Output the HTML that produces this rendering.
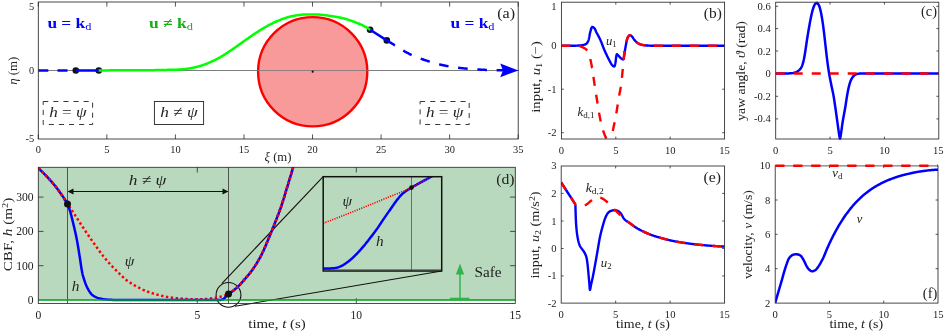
<!DOCTYPE html>
<html><head><meta charset="utf-8"><title>figure</title>
<style>html,body{margin:0;padding:0;background:#fff;}svg{display:block;font-family:'Liberation Serif', serif;}</style>
</head><body>
<svg width="947" height="334" viewBox="0 0 947 334">
<rect width="947" height="334" fill="#fff"/>
<rect x="38.3" y="2" width="479.9" height="137" fill="#ffffff" stroke="none"/>
<clipPath id="ca"><rect x="38.3" y="2" width="479.9" height="137"/></clipPath>
<line x1="38.3" y1="139" x2="38.3" y2="134.4" stroke="#2a2a2a" stroke-width="0.8" />
<line x1="38.3" y1="2" x2="38.3" y2="6.6" stroke="#2a2a2a" stroke-width="0.8" />
<line x1="106.86" y1="139" x2="106.86" y2="134.4" stroke="#2a2a2a" stroke-width="0.8" />
<line x1="106.86" y1="2" x2="106.86" y2="6.6" stroke="#2a2a2a" stroke-width="0.8" />
<line x1="175.41" y1="139" x2="175.41" y2="134.4" stroke="#2a2a2a" stroke-width="0.8" />
<line x1="175.41" y1="2" x2="175.41" y2="6.6" stroke="#2a2a2a" stroke-width="0.8" />
<line x1="243.97" y1="139" x2="243.97" y2="134.4" stroke="#2a2a2a" stroke-width="0.8" />
<line x1="243.97" y1="2" x2="243.97" y2="6.6" stroke="#2a2a2a" stroke-width="0.8" />
<line x1="312.53" y1="139" x2="312.53" y2="134.4" stroke="#2a2a2a" stroke-width="0.8" />
<line x1="312.53" y1="2" x2="312.53" y2="6.6" stroke="#2a2a2a" stroke-width="0.8" />
<line x1="381.09" y1="139" x2="381.09" y2="134.4" stroke="#2a2a2a" stroke-width="0.8" />
<line x1="381.09" y1="2" x2="381.09" y2="6.6" stroke="#2a2a2a" stroke-width="0.8" />
<line x1="449.64" y1="139" x2="449.64" y2="134.4" stroke="#2a2a2a" stroke-width="0.8" />
<line x1="449.64" y1="2" x2="449.64" y2="6.6" stroke="#2a2a2a" stroke-width="0.8" />
<line x1="518.2" y1="139" x2="518.2" y2="134.4" stroke="#2a2a2a" stroke-width="0.8" />
<line x1="518.2" y1="2" x2="518.2" y2="6.6" stroke="#2a2a2a" stroke-width="0.8" />
<line x1="38.3" y1="70.5" x2="42.9" y2="70.5" stroke="#2a2a2a" stroke-width="0.8" />
<line x1="518.2" y1="70.5" x2="513.6" y2="70.5" stroke="#2a2a2a" stroke-width="0.8" />
<line x1="38.3" y1="70.5" x2="518.2" y2="70.5" stroke="#777" stroke-width="0.8" />
<circle cx="312.7" cy="71.75" r="54.6" fill="#f89a9a" stroke="#ff0000" stroke-width="2.4"/>
<line x1="38.3" y1="70.5" x2="518.2" y2="70.5" stroke="#777" stroke-width="0.8" />
<circle cx="312.7" cy="71.7" r="1.1" fill="#111"/>
<circle cx="75.8" cy="70.5" r="3.3" fill="#111"/>
<circle cx="98.8" cy="70.5" r="3.3" fill="#111"/>
<circle cx="370.1" cy="29.7" r="3.3" fill="#111"/>
<circle cx="386.8" cy="40.4" r="3.3" fill="#111"/>
<path d="M38.3 70.5 L75.8 70.5" fill="none" stroke="#0000ff" stroke-width="2.5" stroke-dasharray="10 9.2" />
<path d="M98.8 70.4 L99.4 70.4 L100 70.4 L100.61 70.4 L101.21 70.39 L101.81 70.39 L102.41 70.39 L103.01 70.39 L103.62 70.39 L104.22 70.39 L104.82 70.39 L105.42 70.38 L106.02 70.38 L106.63 70.38 L107.23 70.38 L107.83 70.38 L108.43 70.38 L109.03 70.37 L109.64 70.37 L110.24 70.37 L110.84 70.37 L111.44 70.37 L112.04 70.36 L112.65 70.36 L113.25 70.36 L113.85 70.36 L114.45 70.36 L115.05 70.36 L115.66 70.35 L116.26 70.35 L116.86 70.35 L117.46 70.35 L118.06 70.34 L118.67 70.34 L119.27 70.34 L119.87 70.34 L120.47 70.34 L121.07 70.33 L121.68 70.33 L122.28 70.33 L122.88 70.33 L123.48 70.33 L124.08 70.32 L124.69 70.32 L125.29 70.32 L125.89 70.32 L126.49 70.31 L127.09 70.31 L127.7 70.31 L128.3 70.31 L128.9 70.3 L129.5 70.3 L130.1 70.3 L130.7 70.3 L131.31 70.29 L131.91 70.29 L132.51 70.29 L133.11 70.29 L133.71 70.29 L134.32 70.28 L134.92 70.28 L135.52 70.28 L136.12 70.28 L136.72 70.27 L137.33 70.27 L137.93 70.27 L138.53 70.27 L139.13 70.26 L139.73 70.26 L140.34 70.26 L140.94 70.26 L141.54 70.25 L142.14 70.25 L142.74 70.25 L143.35 70.24 L143.95 70.24 L144.55 70.24 L145.15 70.23 L145.75 70.23 L146.36 70.23 L146.96 70.22 L147.56 70.22 L148.16 70.21 L148.76 70.21 L149.37 70.21 L149.97 70.2 L150.57 70.19 L151.17 70.19 L151.77 70.18 L152.38 70.17 L152.98 70.16 L153.58 70.15 L154.18 70.14 L154.78 70.13 L155.39 70.11 L155.99 70.1 L156.59 70.09 L157.19 70.07 L157.79 70.06 L158.39 70.04 L159 70.03 L159.6 70.01 L160.2 70 L160.8 69.98 L161.4 69.97 L162.01 69.96 L162.61 69.94 L163.21 69.93 L163.81 69.92 L164.41 69.91 L165.01 69.9 L165.62 69.89 L166.22 69.88 L166.82 69.88 L167.42 69.87 L168.02 69.86 L168.63 69.86 L169.23 69.85 L169.83 69.84 L170.43 69.83 L171.03 69.83 L171.64 69.82 L172.24 69.81 L172.84 69.79 L173.44 69.78 L174.04 69.76 L174.65 69.74 L175.25 69.72 L175.85 69.7 L176.45 69.68 L177.05 69.65 L177.65 69.62 L178.26 69.59 L178.86 69.56 L179.46 69.53 L180.06 69.5 L180.66 69.46 L181.26 69.41 L181.86 69.36 L182.46 69.31 L183.06 69.25 L183.66 69.18 L184.26 69.12 L184.85 69.04 L185.45 68.97 L186.05 68.89 L186.65 68.81 L187.24 68.74 L187.84 68.65 L188.43 68.57 L189.03 68.47 L189.62 68.38 L190.21 68.27 L190.81 68.17 L191.4 68.05 L191.99 67.94 L192.58 67.82 L193.17 67.7 L193.76 67.57 L194.35 67.44 L194.94 67.31 L195.52 67.18 L196.11 67.04 L196.69 66.9 L197.28 66.75 L197.86 66.59 L198.44 66.43 L199.02 66.27 L199.6 66.1 L200.18 65.93 L200.75 65.75 L201.33 65.57 L201.9 65.39 L202.47 65.21 L203.04 65.02 L203.61 64.83 L204.18 64.63 L204.75 64.42 L205.31 64.21 L205.87 63.99 L206.44 63.77 L207 63.55 L207.56 63.33 L208.11 63.1 L208.67 62.86 L209.22 62.63 L209.78 62.4 L210.33 62.16 L210.88 61.92 L211.43 61.67 L211.98 61.42 L212.53 61.17 L213.07 60.92 L213.62 60.66 L214.16 60.4 L214.7 60.13 L215.24 59.86 L215.78 59.59 L216.31 59.32 L216.85 59.04 L217.38 58.76 L217.91 58.48 L218.44 58.19 L218.97 57.9 L219.49 57.61 L220.01 57.31 L220.54 57.01 L221.06 56.7 L221.57 56.4 L222.09 56.09 L222.61 55.78 L223.12 55.46 L223.64 55.15 L224.15 54.83 L224.66 54.51 L225.17 54.19 L225.68 53.87 L226.18 53.55 L226.69 53.22 L227.19 52.89 L227.7 52.56 L228.2 52.23 L228.7 51.89 L229.2 51.56 L229.7 51.22 L230.19 50.88 L230.69 50.54 L231.19 50.2 L231.69 49.86 L232.18 49.52 L232.68 49.18 L233.17 48.84 L233.67 48.49 L234.16 48.15 L234.65 47.8 L235.14 47.45 L235.64 47.11 L236.13 46.76 L236.62 46.41 L237.11 46.06 L237.6 45.71 L238.09 45.36 L238.58 45.01 L239.07 44.66 L239.56 44.31 L240.05 43.96 L240.54 43.62 L241.03 43.27 L241.52 42.92 L242.02 42.57 L242.51 42.22 L243 41.88 L243.49 41.53 L243.98 41.18 L244.47 40.83 L244.96 40.49 L245.45 40.14 L245.95 39.79 L246.44 39.44 L246.93 39.1 L247.42 38.75 L247.92 38.41 L248.41 38.06 L248.9 37.71 L249.39 37.37 L249.89 37.02 L250.38 36.67 L250.87 36.33 L251.36 35.98 L251.86 35.64 L252.35 35.29 L252.85 34.95 L253.34 34.61 L253.84 34.27 L254.34 33.94 L254.84 33.6 L255.35 33.27 L255.85 32.94 L256.35 32.62 L256.86 32.29 L257.37 31.97 L257.88 31.64 L258.39 31.32 L258.9 31 L259.41 30.68 L259.92 30.37 L260.43 30.05 L260.95 29.74 L261.46 29.43 L261.98 29.11 L262.49 28.81 L263.01 28.5 L263.52 28.19 L264.04 27.88 L264.56 27.57 L265.08 27.26 L265.6 26.95 L266.12 26.65 L266.64 26.35 L267.16 26.05 L267.68 25.75 L268.21 25.46 L268.74 25.17 L269.27 24.88 L269.8 24.6 L270.33 24.33 L270.87 24.06 L271.41 23.79 L271.95 23.52 L272.49 23.26 L273.03 23 L273.58 22.74 L274.13 22.49 L274.67 22.24 L275.22 21.99 L275.77 21.75 L276.32 21.5 L276.88 21.27 L277.43 21.03 L277.98 20.8 L278.54 20.56 L279.09 20.33 L279.65 20.1 L280.21 19.87 L280.77 19.64 L281.33 19.42 L281.89 19.2 L282.45 18.98 L283.02 18.78 L283.59 18.57 L284.15 18.38 L284.72 18.19 L285.3 18.01 L285.87 17.83 L286.44 17.65 L287.02 17.48 L287.6 17.31 L288.18 17.15 L288.76 16.99 L289.35 16.83 L289.93 16.68 L290.52 16.54 L291.1 16.4 L291.69 16.27 L292.28 16.15 L292.87 16.03 L293.46 15.91 L294.05 15.8 L294.64 15.69 L295.23 15.58 L295.83 15.47 L296.42 15.37 L297.02 15.28 L297.61 15.19 L298.21 15.11 L298.81 15.03 L299.41 14.96 L300 14.9 L300.6 14.84 L301.2 14.79 L301.8 14.73 L302.4 14.67 L303 14.62 L303.6 14.57 L304.2 14.53 L304.8 14.49 L305.41 14.46 L306.01 14.43 L306.61 14.41 L307.21 14.4 L307.81 14.4 L308.41 14.4 L309.01 14.4 L309.62 14.4 L310.22 14.4 L310.82 14.4 L311.42 14.4 L312.03 14.4 L312.63 14.4 L313.23 14.4 L313.83 14.4 L314.43 14.4 L315.04 14.4 L315.64 14.41 L316.24 14.42 L316.84 14.45 L317.44 14.48 L318.04 14.51 L318.64 14.56 L319.24 14.61 L319.84 14.66 L320.45 14.71 L321.05 14.77 L321.64 14.82 L322.24 14.88 L322.84 14.93 L323.44 14.99 L324.04 15.06 L324.64 15.13 L325.23 15.2 L325.83 15.28 L326.43 15.37 L327.02 15.45 L327.62 15.54 L328.22 15.63 L328.81 15.72 L329.41 15.81 L330 15.9 L330.6 15.99 L331.19 16.08 L331.79 16.17 L332.39 16.26 L332.98 16.35 L333.58 16.44 L334.17 16.54 L334.77 16.63 L335.37 16.73 L335.96 16.83 L336.56 16.93 L337.15 17.04 L337.74 17.14 L338.34 17.25 L338.93 17.36 L339.52 17.48 L340.11 17.59 L340.69 17.72 L341.28 17.84 L341.86 17.97 L342.45 18.1 L343.03 18.24 L343.61 18.39 L344.19 18.54 L344.77 18.7 L345.35 18.87 L345.93 19.04 L346.51 19.21 L347.08 19.39 L347.66 19.57 L348.23 19.76 L348.81 19.95 L349.38 20.14 L349.95 20.34 L350.52 20.54 L351.09 20.74 L351.66 20.94 L352.23 21.15 L352.79 21.36 L353.36 21.56 L353.92 21.77 L354.48 21.98 L355.04 22.19 L355.61 22.41 L356.17 22.62 L356.73 22.84 L357.29 23.07 L357.85 23.29 L358.41 23.52 L358.97 23.76 L359.52 23.99 L360.08 24.23 L360.63 24.48 L361.18 24.73 L361.73 24.98 L362.28 25.23 L362.82 25.49 L363.37 25.75 L363.91 26.02 L364.44 26.29 L364.98 26.56 L365.51 26.84 L366.03 27.12 L366.56 27.41 L367.07 27.71 L367.59 28.03 L368.1 28.35 L368.6 28.68 L369.1 29.02 L369.6 29.36 L370.1 29.7" fill="none" stroke="#00ff00" stroke-width="2.5" stroke-linecap="round"/>
<path d="M75.8 70.5 L98.8 70.5" fill="none" stroke="#0000ff" stroke-width="2.5" />
<path d="M370.1 29.7 L386.8 40.4" fill="none" stroke="#0000ff" stroke-width="2.5" />
<path d="M386.8 40.4 L387.32 40.71 L387.84 41.02 L388.36 41.33 L388.88 41.65 L389.4 41.96 L389.91 42.27 L390.43 42.59 L390.95 42.9 L391.47 43.21 L391.98 43.53 L392.5 43.85 L393.02 44.16 L393.53 44.48 L394.05 44.8 L394.56 45.12 L395.08 45.43 L395.59 45.76 L396.1 46.08 L396.61 46.41 L397.12 46.74 L397.63 47.07 L398.14 47.4 L398.64 47.73 L399.15 48.06 L399.66 48.39 L400.17 48.72 L400.68 49.04 L401.2 49.36 L401.71 49.68 L402.23 49.99 L402.75 50.3 L403.27 50.6 L403.8 50.9 L404.33 51.2 L404.85 51.49 L405.38 51.79 L405.92 52.08 L406.45 52.37 L406.99 52.65 L407.52 52.94 L408.06 53.22 L408.6 53.49 L409.14 53.77 L409.68 54.04 L410.23 54.3 L410.77 54.56 L411.32 54.82 L411.87 55.07 L412.42 55.32 L412.97 55.56 L413.53 55.8 L414.08 56.04 L414.64 56.28 L415.2 56.51 L415.76 56.74 L416.33 56.97 L416.89 57.19 L417.45 57.41 L418.02 57.63 L418.59 57.85 L419.15 58.06 L419.72 58.27 L420.29 58.48 L420.85 58.69 L421.42 58.9 L421.99 59.1 L422.56 59.3 L423.14 59.5 L423.71 59.7 L424.28 59.89 L424.86 60.09 L425.43 60.28 L426.01 60.47 L426.58 60.65 L427.16 60.84 L427.74 61.02 L428.32 61.21 L428.89 61.39 L429.47 61.57 L430.05 61.75 L430.63 61.92 L431.21 62.1 L431.79 62.28 L432.37 62.46 L432.95 62.63 L433.53 62.8 L434.11 62.98 L434.69 63.15 L435.27 63.31 L435.86 63.48 L436.44 63.64 L437.02 63.8 L437.61 63.95 L438.2 64.1 L438.78 64.25 L439.37 64.39 L439.96 64.53 L440.55 64.67 L441.14 64.8 L441.73 64.93 L442.32 65.06 L442.91 65.19 L443.51 65.32 L444.1 65.44 L444.69 65.56 L445.29 65.68 L445.88 65.8 L446.48 65.91 L447.07 66.02 L447.67 66.13 L448.26 66.24 L448.86 66.35 L449.46 66.45 L450.05 66.55 L450.65 66.65 L451.25 66.75 L451.84 66.85 L452.44 66.95 L453.04 67.04 L453.64 67.13 L454.24 67.23 L454.84 67.31 L455.44 67.4 L456.04 67.48 L456.64 67.56 L457.24 67.64 L457.84 67.72 L458.44 67.79 L459.04 67.86 L459.64 67.93 L460.24 68 L460.84 68.07 L461.45 68.13 L462.05 68.2 L462.65 68.26 L463.25 68.32 L463.86 68.38 L464.46 68.44 L465.06 68.5 L465.67 68.55 L466.27 68.61 L466.87 68.66 L467.47 68.72 L468.08 68.77 L468.68 68.82 L469.28 68.87 L469.89 68.92 L470.49 68.97 L471.1 69.01 L471.7 69.06 L472.3 69.11 L472.91 69.15 L473.51 69.19 L474.12 69.24 L474.72 69.28 L475.32 69.32 L475.93 69.36 L476.53 69.4 L477.14 69.43 L477.74 69.47 L478.35 69.51 L478.95 69.54 L479.55 69.58 L480.16 69.61 L480.76 69.64 L481.37 69.68 L481.97 69.71 L482.58 69.74 L483.18 69.77 L483.79 69.8 L484.39 69.82 L485 69.85 L485.6 69.88 L486.21 69.9 L486.81 69.92 L487.42 69.95 L488.02 69.97 L488.63 69.99 L489.23 70.01 L489.84 70.03 L490.44 70.05 L491.05 70.07 L491.65 70.09 L492.26 70.11 L492.86 70.12 L493.47 70.14 L494.08 70.15 L494.68 70.17 L495.29 70.18 L495.89 70.2 L496.5 70.21 L497.1 70.22 L497.71 70.24 L498.31 70.25 L498.92 70.26 L499.52 70.27 L500.13 70.29 L500.73 70.3 L501.34 70.31 L501.95 70.32 L502.55 70.33 L503.16 70.34 L503.76 70.35 L504.37 70.36 L504.97 70.37 L505.58 70.37 L506.18 70.38 L506.79 70.39 L507.39 70.39 L508 70.4" fill="none" stroke="#0000ff" stroke-width="2.5" stroke-dasharray="9.6 9.7" />
<path d="M518.4 70.4 L500.2 63.4 L503.0 70.4 L500.2 77.2 Z" fill="#0000ff"/>
<rect x="38.3" y="2" width="479.9" height="137" fill="none" stroke="#2a2a2a" stroke-width="0.85"/>
<rect x="43.2" y="101.5" width="49.4" height="23" fill="#fff" stroke="#222" stroke-width="0.9" stroke-dasharray="5.1 5.0"/>
<rect x="154.4" y="101.5" width="49.2" height="23" fill="#fff" stroke="#222" stroke-width="0.9"/>
<rect x="420.1" y="101.5" width="49.1" height="23" fill="#fff" stroke="#222" stroke-width="0.9" stroke-dasharray="5.1 5.0"/>
<rect x="38.3" y="167.3" width="477" height="136.1" fill="#ffffff" stroke="none"/>
<rect x="38.3" y="167.3" width="477" height="132.7" fill="#b9d9be"/>
<clipPath id="cd"><rect x="38.3" y="167.3" width="477" height="136.1"/></clipPath>
<line x1="197.3" y1="303.4" x2="197.3" y2="298.2" stroke="#2a2a2a" stroke-width="0.8" />
<line x1="197.3" y1="167.3" x2="197.3" y2="172.5" stroke="#2a2a2a" stroke-width="0.8" />
<line x1="356.3" y1="303.4" x2="356.3" y2="298.2" stroke="#2a2a2a" stroke-width="0.8" />
<line x1="356.3" y1="167.3" x2="356.3" y2="172.5" stroke="#2a2a2a" stroke-width="0.8" />
<line x1="38.3" y1="265.7" x2="43.5" y2="265.7" stroke="#2a2a2a" stroke-width="0.8" />
<line x1="515.3" y1="265.7" x2="510.1" y2="265.7" stroke="#2a2a2a" stroke-width="0.8" />
<line x1="38.3" y1="231.4" x2="43.5" y2="231.4" stroke="#2a2a2a" stroke-width="0.8" />
<line x1="515.3" y1="231.4" x2="510.1" y2="231.4" stroke="#2a2a2a" stroke-width="0.8" />
<line x1="38.3" y1="197.1" x2="43.5" y2="197.1" stroke="#2a2a2a" stroke-width="0.8" />
<line x1="515.3" y1="197.1" x2="510.1" y2="197.1" stroke="#2a2a2a" stroke-width="0.8" />
<line x1="67.5" y1="167.3" x2="67.5" y2="303.4" stroke="#333" stroke-width="0.8" />
<line x1="228.5" y1="167.3" x2="228.5" y2="303.4" stroke="#333" stroke-width="0.8" />
<line x1="70.5" y1="191.5" x2="225.5" y2="191.5" stroke="#111" stroke-width="1.1" />
<path d="M67.5 191.5 l6 -2.9 v5.8 Z" fill="#111"/>
<path d="M228.5 191.5 l-6 -2.9 v5.8 Z" fill="#111"/>
<line x1="221.8" y1="283.6" x2="323.2" y2="176.7" stroke="#111" stroke-width="1.1" />
<line x1="235" y1="306.3" x2="441.7" y2="271" stroke="#111" stroke-width="1.1" />
<circle cx="228.5" cy="294.9" r="12.4" fill="none" stroke="#111" stroke-width="1.1"/>
<g clip-path="url(#cd)">
<path d="M38.3 168.2 L38.75 168.6 L39.19 169.01 L39.64 169.41 L40.08 169.82 L40.52 170.23 L40.96 170.64 L41.4 171.06 L41.83 171.47 L42.26 171.89 L42.69 172.31 L43.12 172.73 L43.55 173.15 L43.97 173.57 L44.4 174 L44.82 174.43 L45.24 174.86 L45.66 175.29 L46.07 175.73 L46.49 176.16 L46.9 176.6 L47.31 177.04 L47.72 177.48 L48.13 177.92 L48.53 178.37 L48.94 178.81 L49.34 179.26 L49.74 179.71 L50.14 180.16 L50.54 180.61 L50.93 181.06 L51.33 181.51 L51.73 181.96 L52.12 182.42 L52.52 182.87 L52.91 183.33 L53.3 183.79 L53.69 184.25 L54.08 184.71 L54.46 185.17 L54.84 185.63 L55.23 186.1 L55.6 186.57 L55.98 187.04 L56.35 187.51 L56.72 187.98 L57.09 188.45 L57.45 188.93 L57.81 189.41 L58.16 189.89 L58.51 190.38 L58.86 190.87 L59.21 191.36 L59.55 191.85 L59.89 192.34 L60.23 192.84 L60.57 193.34 L60.91 193.83 L61.24 194.33 L61.57 194.84 L61.9 195.34 L62.23 195.84 L62.56 196.35 L62.89 196.85 L63.21 197.36 L63.54 197.86 L63.87 198.37 L64.19 198.88 L64.52 199.38 L64.85 199.89 L65.18 200.39 L65.5 200.9 L65.83 201.4 L66.16 201.9 L66.5 202.41 L66.83 202.91 L67.17 203.41 L67.5 203.9 L67.84 204.4 L68.18 204.9 L68.52 205.39 L68.87 205.88 L69.21 206.38 L69.55 206.87 L69.9 207.36 L70.24 207.86 L70.58 208.35 L70.92 208.85 L71.26 209.35 L71.6 209.84 L71.93 210.34 L72.26 210.84 L72.59 211.35 L72.92 211.85 L73.25 212.35 L73.58 212.85 L73.91 213.36 L74.24 213.86 L74.56 214.37 L74.89 214.87 L75.21 215.38 L75.53 215.89 L75.86 216.39 L76.18 216.9 L76.5 217.41 L76.83 217.91 L77.15 218.42 L77.47 218.93 L77.8 219.44 L78.12 219.94 L78.44 220.45 L78.77 220.96 L79.09 221.46 L79.42 221.97 L79.75 222.47 L80.07 222.98 L80.4 223.48 L80.73 223.98 L81.06 224.49 L81.39 224.99 L81.72 225.49 L82.06 225.99 L82.39 226.49 L82.72 226.99 L83.06 227.49 L83.39 227.99 L83.72 228.49 L84.06 228.99 L84.39 229.49 L84.73 229.99 L85.07 230.48 L85.4 230.98 L85.74 231.48 L86.08 231.98 L86.41 232.48 L86.75 232.97 L87.09 233.47 L87.43 233.97 L87.77 234.46 L88.11 234.96 L88.45 235.45 L88.79 235.95 L89.13 236.44 L89.47 236.94 L89.81 237.43 L90.16 237.93 L90.5 238.42 L90.84 238.92 L91.19 239.41 L91.53 239.9 L91.88 240.39 L92.22 240.89 L92.56 241.38 L92.91 241.87 L93.25 242.36 L93.6 242.86 L93.94 243.35 L94.29 243.84 L94.64 244.33 L94.98 244.83 L95.33 245.32 L95.67 245.81 L96.02 246.3 L96.37 246.79 L96.72 247.28 L97.07 247.77 L97.42 248.26 L97.77 248.75 L98.12 249.23 L98.47 249.72 L98.83 250.21 L99.18 250.69 L99.54 251.18 L99.89 251.66 L100.25 252.15 L100.61 252.63 L100.97 253.11 L101.33 253.59 L101.69 254.07 L102.05 254.55 L102.42 255.02 L102.79 255.5 L103.15 255.98 L103.52 256.45 L103.9 256.92 L104.27 257.39 L104.65 257.86 L105.03 258.33 L105.42 258.79 L105.81 259.24 L106.2 259.7 L106.59 260.15 L106.99 260.6 L107.38 261.05 L107.78 261.5 L108.18 261.95 L108.58 262.4 L108.99 262.85 L109.39 263.29 L109.8 263.74 L110.2 264.18 L110.61 264.62 L111.02 265.06 L111.43 265.5 L111.85 265.94 L112.26 266.38 L112.68 266.81 L113.09 267.25 L113.51 267.68 L113.93 268.11 L114.35 268.54 L114.77 268.98 L115.19 269.4 L115.61 269.83 L116.04 270.26 L116.46 270.69 L116.89 271.11 L117.31 271.53 L117.74 271.96 L118.17 272.38 L118.6 272.8 L119.02 273.22 L119.45 273.64 L119.88 274.07 L120.31 274.49 L120.74 274.91 L121.17 275.34 L121.61 275.76 L122.04 276.18 L122.48 276.6 L122.92 277.02 L123.36 277.43 L123.8 277.84 L124.25 278.24 L124.7 278.64 L125.16 279.03 L125.61 279.41 L126.08 279.79 L126.55 280.16 L127.02 280.51 L127.5 280.87 L127.98 281.21 L128.46 281.56 L128.96 281.9 L129.45 282.24 L129.95 282.57 L130.45 282.9 L130.96 283.23 L131.47 283.56 L131.98 283.88 L132.5 284.19 L133.01 284.51 L133.53 284.82 L134.06 285.12 L134.58 285.43 L135.11 285.72 L135.64 286.02 L136.17 286.31 L136.7 286.6 L137.23 286.88 L137.76 287.16 L138.3 287.44 L138.83 287.72 L139.37 287.98 L139.9 288.25 L140.44 288.51 L140.98 288.77 L141.52 289.03 L142.06 289.28 L142.61 289.54 L143.16 289.78 L143.71 290.03 L144.26 290.27 L144.82 290.51 L145.38 290.74 L145.93 290.97 L146.49 291.2 L147.06 291.42 L147.62 291.63 L148.18 291.85 L148.74 292.05 L149.31 292.26 L149.87 292.46 L150.44 292.65 L151.01 292.84 L151.58 293.03 L152.15 293.21 L152.72 293.4 L153.3 293.57 L153.87 293.75 L154.45 293.92 L155.03 294.09 L155.61 294.26 L156.19 294.42 L156.77 294.58 L157.35 294.74 L157.93 294.89 L158.52 295.04 L159.1 295.18 L159.68 295.32 L160.27 295.46 L160.85 295.6 L161.44 295.74 L162.02 295.87 L162.61 296 L163.2 296.13 L163.78 296.26 L164.37 296.39 L164.96 296.51 L165.55 296.63 L166.14 296.75 L166.74 296.86 L167.33 296.97 L167.92 297.07 L168.51 297.17 L169.11 297.27 L169.7 297.36 L170.29 297.44 L170.89 297.52 L171.48 297.6 L172.08 297.68 L172.67 297.75 L173.27 297.82 L173.87 297.89 L174.47 297.96 L175.06 298.03 L175.66 298.09 L176.26 298.15 L176.86 298.21 L177.46 298.27 L178.06 298.33 L178.66 298.38 L179.26 298.44 L179.85 298.49 L180.45 298.54 L181.05 298.59 L181.65 298.64 L182.25 298.69 L182.85 298.74 L183.45 298.79 L184.05 298.84 L184.65 298.89 L185.25 298.93 L185.85 298.97 L186.45 299.01 L187.05 299.05 L187.65 299.09 L188.25 299.12 L188.85 299.15 L189.45 299.18 L190.05 299.2 L190.65 299.22 L191.25 299.25 L191.85 299.27 L192.45 299.29 L193.05 299.31 L193.65 299.33 L194.26 299.34 L194.86 299.36 L195.46 299.37 L196.06 299.38 L196.66 299.39 L197.26 299.4 L197.86 299.4 L198.46 299.4 L199.06 299.39 L199.66 299.37 L200.27 299.35 L200.87 299.33 L201.47 299.3 L202.07 299.27 L202.67 299.23 L203.27 299.19 L203.87 299.15 L204.47 299.11 L205.07 299.07 L205.67 299.02 L206.27 298.98 L206.87 298.93 L207.46 298.88 L208.06 298.82 L208.66 298.75 L209.26 298.68 L209.86 298.6 L210.45 298.53 L211.05 298.44 L211.64 298.36 L212.24 298.27 L212.83 298.18 L213.43 298.09 L214.02 298 L214.61 297.9 L215.21 297.8 L215.8 297.7 L216.39 297.59 L216.98 297.47 L217.58 297.36 L218.17 297.23 L218.76 297.11 L219.34 296.97 L219.93 296.84 L220.52 296.69 L221.1 296.55 L221.68 296.4 L222.25 296.24 L222.83 296.08 L223.41 295.91 L223.98 295.72 L224.56 295.53 L225.13 295.33 L225.7 295.12 L226.27 294.9 L226.83 294.67 L227.38 294.43 L227.92 294.18 L228.45 293.93 L228.97 293.66 L229.48 293.37 L229.99 293.07 L230.5 292.76 L231 292.43 L231.5 292.09 L231.99 291.74 L232.48 291.38 L232.96 291 L233.44 290.63 L233.92 290.24 L234.39 289.85 L234.86 289.46 L235.32 289.06 L235.77 288.66 L236.23 288.25 L236.68 287.85 L237.12 287.45 L237.56 287.05 L238 286.65 L238.43 286.23 L238.85 285.81 L239.27 285.39 L239.68 284.95 L240.09 284.51 L240.5 284.07 L240.91 283.62 L241.31 283.17 L241.71 282.72 L242.1 282.26 L242.5 281.8 L242.89 281.34 L243.28 280.88 L243.68 280.42 L244.07 279.97 L244.46 279.51 L244.85 279.05 L245.25 278.6 L245.64 278.15 L246.04 277.69 L246.43 277.24 L246.83 276.78 L247.22 276.32 L247.61 275.87 L248.01 275.41 L248.4 274.95 L248.78 274.49 L249.17 274.02 L249.55 273.56 L249.93 273.09 L250.31 272.62 L250.68 272.15 L251.05 271.68 L251.41 271.2 L251.77 270.72 L252.13 270.24 L252.47 269.76 L252.82 269.27 L253.16 268.78 L253.5 268.28 L253.84 267.79 L254.17 267.29 L254.5 266.79 L254.83 266.28 L255.16 265.78 L255.48 265.27 L255.8 264.76 L256.12 264.25 L256.43 263.73 L256.75 263.22 L257.06 262.7 L257.37 262.18 L257.68 261.67 L257.99 261.15 L258.29 260.63 L258.59 260.11 L258.89 259.59 L259.19 259.06 L259.49 258.54 L259.79 258.02 L260.08 257.5 L260.37 256.97 L260.66 256.44 L260.94 255.91 L261.21 255.37 L261.48 254.84 L261.74 254.3 L262.01 253.76 L262.26 253.21 L262.52 252.67 L262.78 252.13 L263.03 251.58 L263.28 251.04 L263.53 250.49 L263.77 249.94 L264.02 249.39 L264.26 248.84 L264.51 248.29 L264.75 247.74 L264.99 247.19 L265.22 246.64 L265.46 246.08 L265.7 245.53 L265.93 244.98 L266.17 244.42 L266.4 243.87 L266.64 243.31 L266.87 242.76 L267.1 242.2 L267.33 241.65 L267.57 241.09 L267.8 240.54 L268.03 239.98 L268.26 239.43 L268.49 238.87 L268.72 238.32 L268.96 237.76 L269.19 237.21 L269.42 236.65 L269.65 236.1 L269.88 235.54 L270.11 234.99 L270.34 234.43 L270.57 233.88 L270.79 233.32 L271.02 232.76 L271.24 232.21 L271.47 231.65 L271.69 231.09 L271.92 230.53 L272.14 229.97 L272.37 229.42 L272.59 228.86 L272.81 228.3 L273.03 227.74 L273.25 227.18 L273.48 226.62 L273.7 226.06 L273.92 225.5 L274.14 224.94 L274.36 224.38 L274.58 223.83 L274.8 223.27 L275.02 222.71 L275.24 222.15 L275.46 221.59 L275.68 221.03 L275.9 220.47 L276.12 219.91 L276.34 219.35 L276.56 218.79 L276.78 218.23 L277 217.67 L277.22 217.11 L277.44 216.55 L277.66 215.99 L277.88 215.43 L278.1 214.87 L278.31 214.31 L278.53 213.75 L278.74 213.19 L278.96 212.62 L279.17 212.06 L279.38 211.5 L279.59 210.93 L279.8 210.37 L280.01 209.81 L280.21 209.24 L280.41 208.68 L280.61 208.11 L280.81 207.54 L281.01 206.98 L281.2 206.41 L281.4 205.84 L281.59 205.27 L281.78 204.7 L281.96 204.13 L282.15 203.56 L282.33 202.99 L282.52 202.41 L282.7 201.84 L282.88 201.27 L283.06 200.7 L283.24 200.12 L283.42 199.55 L283.6 198.97 L283.77 198.4 L283.95 197.82 L284.12 197.25 L284.3 196.67 L284.47 196.1 L284.65 195.52 L284.82 194.94 L284.99 194.37 L285.17 193.79 L285.34 193.22 L285.51 192.64 L285.69 192.06 L285.86 191.49 L286.04 190.91 L286.21 190.34 L286.38 189.76 L286.56 189.19 L286.74 188.61 L286.91 188.04 L287.09 187.46 L287.26 186.89 L287.44 186.31 L287.61 185.74 L287.79 185.16 L287.97 184.59 L288.14 184.01 L288.32 183.44 L288.49 182.86 L288.67 182.29 L288.84 181.71 L289.02 181.14 L289.19 180.56 L289.36 179.99 L289.54 179.41 L289.71 178.84 L289.89 178.26 L290.06 177.68 L290.23 177.11 L290.41 176.53 L290.58 175.96 L290.75 175.38 L290.93 174.81 L291.1 174.23 L291.27 173.65 L291.44 173.08 L291.62 172.5 L291.79 171.93 L291.96 171.35 L292.13 170.77 L292.3 170.2 L292.47 169.62 L292.64 169.04 L292.81 168.47 L292.98 167.89 L293.15 167.32 L293.32 166.74 L293.49 166.16 L293.66 165.59 L293.83 165.01 L294 164.43 L294.17 163.85 L294.34 163.28 L294.5 162.7 L294.67 162.12 L294.84 161.54 L295 160.97 L295.17 160.39 L295.34 159.81 L295.5 159.23 L295.67 158.66 L295.83 158.08 L296 157.5" fill="none" stroke="#ff0000" stroke-width="2.5" stroke-dasharray="2.4 2.5" />
<path d="M38.3 168.2 L38.75 168.61 L39.2 169.02 L39.65 169.43 L40.1 169.84 L40.55 170.26 L40.99 170.67 L41.43 171.09 L41.88 171.51 L42.31 171.94 L42.75 172.36 L43.18 172.79 L43.62 173.22 L44.05 173.65 L44.47 174.08 L44.9 174.51 L45.33 174.95 L45.75 175.39 L46.17 175.83 L46.59 176.27 L47.01 176.71 L47.42 177.16 L47.84 177.61 L48.25 178.06 L48.66 178.51 L49.07 178.96 L49.47 179.41 L49.88 179.86 L50.28 180.32 L50.69 180.78 L51.09 181.23 L51.49 181.69 L51.89 182.15 L52.29 182.61 L52.69 183.07 L53.09 183.54 L53.48 184 L53.88 184.47 L54.27 184.94 L54.66 185.41 L55.04 185.88 L55.43 186.35 L55.81 186.82 L56.19 187.3 L56.56 187.78 L56.94 188.26 L57.3 188.74 L57.67 189.23 L58.03 189.71 L58.39 190.2 L58.76 190.69 L59.11 191.18 L59.47 191.67 L59.83 192.16 L60.18 192.66 L60.53 193.15 L60.89 193.65 L61.23 194.15 L61.58 194.65 L61.93 195.15 L62.27 195.65 L62.61 196.15 L62.95 196.66 L63.29 197.17 L63.63 197.67 L63.96 198.18 L64.3 198.7 L64.63 199.21 L64.95 199.72 L65.28 200.24 L65.6 200.76 L65.93 201.28 L66.25 201.8 L66.56 202.32 L66.88 202.85 L67.19 203.37 L67.5 203.9" fill="none" stroke="#0000ff" stroke-width="2.5" />
<path d="M67.5 203.9 L67.72 204.46 L67.94 205.03 L68.15 205.59 L68.37 206.15 L68.58 206.72 L68.78 207.29 L68.99 207.85 L69.18 208.42 L69.38 208.99 L69.56 209.57 L69.74 210.14 L69.92 210.71 L70.09 211.29 L70.26 211.87 L70.43 212.45 L70.59 213.02 L70.75 213.6 L70.91 214.19 L71.07 214.77 L71.23 215.35 L71.38 215.93 L71.53 216.52 L71.68 217.1 L71.83 217.69 L71.98 218.27 L72.12 218.86 L72.27 219.44 L72.41 220.03 L72.55 220.62 L72.69 221.2 L72.83 221.79 L72.98 222.38 L73.12 222.96 L73.26 223.55 L73.39 224.14 L73.53 224.72 L73.67 225.31 L73.81 225.9 L73.95 226.48 L74.09 227.07 L74.23 227.66 L74.37 228.24 L74.5 228.83 L74.64 229.42 L74.78 230.01 L74.91 230.59 L75.04 231.18 L75.18 231.77 L75.31 232.36 L75.44 232.95 L75.57 233.54 L75.7 234.13 L75.82 234.71 L75.95 235.3 L76.08 235.89 L76.2 236.48 L76.32 237.07 L76.44 237.66 L76.56 238.26 L76.68 238.85 L76.79 239.44 L76.91 240.03 L77.02 240.62 L77.13 241.21 L77.24 241.81 L77.34 242.4 L77.45 242.99 L77.55 243.58 L77.66 244.18 L77.76 244.77 L77.86 245.37 L77.96 245.96 L78.06 246.56 L78.16 247.15 L78.26 247.74 L78.35 248.34 L78.45 248.94 L78.55 249.53 L78.64 250.13 L78.74 250.72 L78.83 251.32 L78.93 251.91 L79.02 252.51 L79.12 253.1 L79.21 253.7 L79.3 254.29 L79.4 254.89 L79.49 255.49 L79.59 256.08 L79.69 256.68 L79.78 257.27 L79.88 257.87 L79.97 258.46 L80.07 259.06 L80.16 259.65 L80.25 260.25 L80.34 260.85 L80.43 261.45 L80.51 262.04 L80.6 262.64 L80.68 263.24 L80.77 263.84 L80.86 264.44 L80.94 265.03 L81.03 265.63 L81.12 266.23 L81.21 266.83 L81.3 267.42 L81.39 268.02 L81.49 268.61 L81.59 269.21 L81.69 269.8 L81.79 270.39 L81.9 270.98 L82.01 271.57 L82.13 272.16 L82.25 272.75 L82.37 273.34 L82.51 273.92 L82.65 274.51 L82.79 275.09 L82.95 275.67 L83.11 276.26 L83.28 276.84 L83.45 277.42 L83.62 278 L83.8 278.57 L83.99 279.15 L84.17 279.72 L84.36 280.3 L84.55 280.87 L84.75 281.43 L84.95 282.01 L85.15 282.58 L85.35 283.15 L85.57 283.72 L85.78 284.29 L86.01 284.85 L86.24 285.41 L86.48 285.97 L86.72 286.51 L86.98 287.06 L87.24 287.59 L87.51 288.12 L87.8 288.65 L88.09 289.19 L88.39 289.73 L88.7 290.28 L89.03 290.82 L89.36 291.36 L89.7 291.89 L90.06 292.4 L90.42 292.9 L90.8 293.38 L91.18 293.84 L91.58 294.27 L91.99 294.67 L92.4 295.04 L92.84 295.38 L93.3 295.71 L93.79 296.02 L94.3 296.33 L94.84 296.63 L95.39 296.91 L95.96 297.18 L96.53 297.43 L97.12 297.67 L97.7 297.89 L98.29 298.08 L98.87 298.26 L99.44 298.41 L100.02 298.55 L100.6 298.68 L101.18 298.8 L101.78 298.92 L102.37 299.03 L102.97 299.13 L103.58 299.22 L104.18 299.3 L104.78 299.38 L105.38 299.44 L105.98 299.5 L106.58 299.55 L107.18 299.6 L107.78 299.64 L108.38 299.68 L108.99 299.72 L109.59 299.76 L110.19 299.79 L110.79 299.82 L111.4 299.85 L112 299.87 L112.6 299.89 L113.21 299.9 L113.81 299.92 L114.41 299.93 L115.01 299.94 L115.61 299.95 L116.22 299.96 L116.82 299.98 L117.42 299.99 L118.02 300 L118.63 300.01 L119.23 300.01 L119.83 300.02 L120.44 300.03 L121.04 300.04 L121.64 300.05 L122.24 300.05 L122.85 300.06 L123.45 300.07 L124.05 300.07 L124.66 300.08 L125.26 300.08 L125.86 300.09 L126.46 300.09 L127.07 300.09 L127.67 300.1 L128.27 300.1 L128.88 300.1 L129.48 300.1 L130.08 300.1 L130.68 300.1 L131.29 300.1 L131.89 300.1 L132.49 300.1 L133.1 300.1 L133.7 300.1 L134.3 300.1 L134.9 300.1 L135.51 300.1 L136.11 300.1 L136.71 300.1 L137.31 300.1 L137.92 300.1 L138.52 300.1 L139.12 300.1 L139.73 300.1 L140.33 300.1 L140.93 300.1 L141.53 300.1 L142.14 300.1 L142.74 300.1 L143.34 300.1 L143.95 300.1 L144.55 300.1 L145.15 300.1 L145.75 300.1 L146.36 300.1 L146.96 300.1 L147.56 300.1 L148.16 300.1 L148.77 300.1 L149.37 300.1 L149.97 300.1 L150.58 300.1 L151.18 300.1 L151.78 300.1 L152.38 300.1 L152.99 300.1 L153.59 300.1 L154.19 300.1 L154.8 300.1 L155.4 300.1 L156 300.1 L156.6 300.1 L157.21 300.1 L157.81 300.1 L158.41 300.1 L159.01 300.1 L159.62 300.1 L160.22 300.1 L160.82 300.1 L161.43 300.1 L162.03 300.1 L162.63 300.1 L163.23 300.1 L163.84 300.1 L164.44 300.1 L165.04 300.1 L165.64 300.1 L166.25 300.1 L166.85 300.1 L167.45 300.1 L168.06 300.1 L168.66 300.1 L169.26 300.1 L169.86 300.1 L170.47 300.1 L171.07 300.1 L171.67 300.1 L172.28 300.1 L172.88 300.1 L173.48 300.1 L174.08 300.1 L174.69 300.1 L175.29 300.1 L175.89 300.1 L176.49 300.1 L177.1 300.1 L177.7 300.1 L178.3 300.1 L178.91 300.1 L179.51 300.1 L180.11 300.1 L180.71 300.1 L181.32 300.1 L181.92 300.1 L182.52 300.1 L183.13 300.1 L183.73 300.1 L184.33 300.1 L184.93 300.1 L185.54 300.1 L186.14 300.1 L186.74 300.1 L187.34 300.1 L187.95 300.1 L188.55 300.1 L189.15 300.1 L189.76 300.1 L190.36 300.1 L190.96 300.1 L191.56 300.1 L192.17 300.1 L192.77 300.1 L193.37 300.1 L193.98 300.1 L194.58 300.1 L195.18 300.1 L195.78 300.1 L196.39 300.1 L196.99 300.1 L197.59 300.1 L198.19 300.1 L198.8 300.1 L199.4 300.1 L200 300.1 L200.61 300.1 L201.21 300.1 L201.81 300.1 L202.42 300.1 L203.02 300.1 L203.63 300.1 L204.23 300.1 L204.84 300.1 L205.44 300.1 L206.05 300.1 L206.66 300.1 L207.26 300.1 L207.87 300.1 L208.47 300.1 L209.08 300.1 L209.68 300.1 L210.29 300.1 L210.89 300.1 L211.5 300.1 L212.1 300.1 L212.7 300.1 L213.31 300.1 L213.91 300.1 L214.51 300.1 L215.11 300.1 L215.71 300.1 L216.31 300.1 L216.91 300.1 L217.5 300.1 L218.1 300.1 L218.69 300.1 L219.29 300.09 L219.9 300.04 L220.51 299.94 L221.12 299.81 L221.72 299.65 L222.29 299.46 L222.84 299.26 L223.34 299.03 L223.81 298.7 L224.26 298.28 L224.7 297.83 L225.13 297.37 L225.57 296.93 L226 296.52 L226.43 296.09 L226.85 295.67 L227.27 295.23 L227.69 294.79 L228.1 294.35 L228.5 293.9" fill="none" stroke="#0000ff" stroke-width="2.5" />
<path d="M228.5 293.9 L229.02 293.58 L229.53 293.25 L230.04 292.91 L230.55 292.57 L231.05 292.23 L231.55 291.88 L232.04 291.53 L232.53 291.18 L233.02 290.82 L233.5 290.45 L233.98 290.08 L234.45 289.71 L234.92 289.33 L235.38 288.95 L235.84 288.56 L236.3 288.18 L236.75 287.78 L237.19 287.39 L237.63 286.99 L238.07 286.58 L238.5 286.16 L238.92 285.74 L239.34 285.31 L239.76 284.87 L240.17 284.43 L240.58 283.98 L240.98 283.53 L241.39 283.08 L241.79 282.62 L242.18 282.17 L242.58 281.71 L242.98 281.25 L243.37 280.78 L243.76 280.32 L244.16 279.86 L244.55 279.4 L244.94 278.95 L245.34 278.49 L245.74 278.04 L246.13 277.58 L246.53 277.13 L246.92 276.67 L247.32 276.21 L247.71 275.75 L248.11 275.29 L248.5 274.83 L248.89 274.37 L249.27 273.9 L249.66 273.43 L250.04 272.96 L250.41 272.49 L250.78 272.02 L251.15 271.54 L251.52 271.06 L251.88 270.58 L252.23 270.1 L252.58 269.61 L252.92 269.12 L253.27 268.63 L253.61 268.13 L253.94 267.63 L254.28 267.13 L254.61 266.62 L254.94 266.12 L255.26 265.61 L255.59 265.1 L255.91 264.59 L256.23 264.07 L256.54 263.56 L256.86 263.04 L257.17 262.52 L257.48 262 L257.79 261.48 L258.1 260.96 L258.4 260.44 L258.7 259.92 L259 259.39 L259.31 258.87 L259.6 258.35 L259.9 257.82 L260.2 257.29 L260.49 256.77 L260.77 256.23 L261.05 255.7 L261.32 255.16 L261.59 254.62 L261.85 254.08 L262.11 253.53 L262.37 252.99 L262.63 252.45 L262.88 251.9 L263.13 251.35 L263.38 250.8 L263.63 250.25 L263.88 249.7 L264.13 249.15 L264.37 248.6 L264.61 248.05 L264.85 247.49 L265.09 246.94 L265.33 246.39 L265.57 245.83 L265.81 245.28 L266.04 244.72 L266.28 244.16 L266.51 243.61 L266.75 243.05 L266.98 242.49 L267.21 241.94 L267.45 241.38 L267.68 240.82 L267.91 240.26 L268.14 239.71 L268.38 239.15 L268.61 238.59 L268.84 238.04 L269.08 237.48 L269.31 236.93 L269.54 236.37 L269.77 235.81 L270 235.25 L270.23 234.7 L270.46 234.14 L270.69 233.58 L270.91 233.02 L271.14 232.46 L271.37 231.9 L271.59 231.34 L271.82 230.78 L272.04 230.22 L272.27 229.66 L272.49 229.1 L272.71 228.54 L272.94 227.98 L273.16 227.42 L273.38 226.86 L273.6 226.3 L273.82 225.74 L274.05 225.18 L274.27 224.61 L274.49 224.05 L274.71 223.49 L274.93 222.93 L275.15 222.37 L275.37 221.81 L275.59 221.24 L275.81 220.68 L276.03 220.12 L276.26 219.56 L276.48 219 L276.7 218.44 L276.92 217.88 L277.14 217.31 L277.36 216.75 L277.58 216.19 L277.8 215.63 L278.02 215.07 L278.24 214.5 L278.46 213.94 L278.67 213.38 L278.89 212.81 L279.1 212.25 L279.31 211.68 L279.52 211.12 L279.73 210.55 L279.94 209.99 L280.15 209.42 L280.35 208.85 L280.55 208.28 L280.75 207.72 L280.95 207.15 L281.14 206.58 L281.34 206.01 L281.53 205.44 L281.72 204.86 L281.91 204.29 L282.1 203.72 L282.28 203.15 L282.47 202.57 L282.65 202 L282.83 201.42 L283.01 200.85 L283.19 200.27 L283.37 199.69 L283.55 199.12 L283.73 198.54 L283.91 197.96 L284.08 197.39 L284.26 196.81 L284.43 196.23 L284.61 195.65 L284.78 195.08 L284.96 194.5 L285.13 193.92 L285.3 193.34 L285.48 192.76 L285.65 192.19 L285.83 191.61 L286 191.03 L286.17 190.45 L286.35 189.87 L286.53 189.3 L286.7 188.72 L286.88 188.14 L287.06 187.57 L287.23 186.99 L287.41 186.41 L287.58 185.84 L287.76 185.26 L287.94 184.68 L288.11 184.11 L288.29 183.53 L288.46 182.95 L288.64 182.37 L288.82 181.8 L288.99 181.22 L289.17 180.64 L289.34 180.07 L289.52 179.49 L289.69 178.91 L289.87 178.33 L290.04 177.76 L290.21 177.18 L290.39 176.6 L290.56 176.02 L290.73 175.44 L290.91 174.87 L291.08 174.29 L291.25 173.71 L291.43 173.13 L291.6 172.55 L291.77 171.98 L291.94 171.4 L292.12 170.82 L292.29 170.24 L292.46 169.66 L292.63 169.09 L292.8 168.51 L292.97 167.93 L293.14 167.35 L293.31 166.77 L293.48 166.19 L293.65 165.61 L293.82 165.03 L293.99 164.46 L294.16 163.88 L294.33 163.3 L294.5 162.72 L294.67 162.14 L294.83 161.56 L295 160.98 L295.17 160.4 L295.33 159.82 L295.5 159.24 L295.67 158.66 L295.83 158.08 L296 157.5" fill="none" stroke="#0000ff" stroke-width="2.5" />
<path d="M38.3 168.2 L38.75 168.61 L39.2 169.02 L39.65 169.43 L40.1 169.84 L40.55 170.26 L40.99 170.67 L41.43 171.09 L41.88 171.51 L42.31 171.94 L42.75 172.36 L43.18 172.79 L43.62 173.22 L44.05 173.65 L44.47 174.08 L44.9 174.51 L45.33 174.95 L45.75 175.39 L46.17 175.83 L46.59 176.27 L47.01 176.71 L47.42 177.16 L47.84 177.61 L48.25 178.06 L48.66 178.51 L49.07 178.96 L49.47 179.41 L49.88 179.86 L50.28 180.32 L50.69 180.78 L51.09 181.23 L51.49 181.69 L51.89 182.15 L52.29 182.61 L52.69 183.07 L53.09 183.54 L53.48 184 L53.88 184.47 L54.27 184.94 L54.66 185.41 L55.04 185.88 L55.43 186.35 L55.81 186.82 L56.19 187.3 L56.56 187.78 L56.94 188.26 L57.3 188.74 L57.67 189.23 L58.03 189.71 L58.39 190.2 L58.76 190.69 L59.11 191.18 L59.47 191.67 L59.83 192.16 L60.18 192.66 L60.53 193.15 L60.89 193.65 L61.23 194.15 L61.58 194.65 L61.93 195.15 L62.27 195.65 L62.61 196.15 L62.95 196.66 L63.29 197.17 L63.63 197.67 L63.96 198.18 L64.3 198.7 L64.63 199.21 L64.95 199.72 L65.28 200.24 L65.6 200.76 L65.93 201.28 L66.25 201.8 L66.56 202.32 L66.88 202.85 L67.19 203.37 L67.5 203.9" fill="none" stroke="#ff0000" stroke-width="2.5" stroke-dasharray="2.4 2.5" />
<path d="M228.5 293.9 L229.02 293.58 L229.53 293.25 L230.04 292.91 L230.55 292.57 L231.05 292.23 L231.55 291.88 L232.04 291.53 L232.53 291.18 L233.02 290.82 L233.5 290.45 L233.98 290.08 L234.45 289.71 L234.92 289.33 L235.38 288.95 L235.84 288.56 L236.3 288.18 L236.75 287.78 L237.19 287.39 L237.63 286.99 L238.07 286.58 L238.5 286.16 L238.92 285.74 L239.34 285.31 L239.76 284.87 L240.17 284.43 L240.58 283.98 L240.98 283.53 L241.39 283.08 L241.79 282.62 L242.18 282.17 L242.58 281.71 L242.98 281.25 L243.37 280.78 L243.76 280.32 L244.16 279.86 L244.55 279.4 L244.94 278.95 L245.34 278.49 L245.74 278.04 L246.13 277.58 L246.53 277.13 L246.92 276.67 L247.32 276.21 L247.71 275.75 L248.11 275.29 L248.5 274.83 L248.89 274.37 L249.27 273.9 L249.66 273.43 L250.04 272.96 L250.41 272.49 L250.78 272.02 L251.15 271.54 L251.52 271.06 L251.88 270.58 L252.23 270.1 L252.58 269.61 L252.92 269.12 L253.27 268.63 L253.61 268.13 L253.94 267.63 L254.28 267.13 L254.61 266.62 L254.94 266.12 L255.26 265.61 L255.59 265.1 L255.91 264.59 L256.23 264.07 L256.54 263.56 L256.86 263.04 L257.17 262.52 L257.48 262 L257.79 261.48 L258.1 260.96 L258.4 260.44 L258.7 259.92 L259 259.39 L259.31 258.87 L259.6 258.35 L259.9 257.82 L260.2 257.29 L260.49 256.77 L260.77 256.23 L261.05 255.7 L261.32 255.16 L261.59 254.62 L261.85 254.08 L262.11 253.53 L262.37 252.99 L262.63 252.45 L262.88 251.9 L263.13 251.35 L263.38 250.8 L263.63 250.25 L263.88 249.7 L264.13 249.15 L264.37 248.6 L264.61 248.05 L264.85 247.49 L265.09 246.94 L265.33 246.39 L265.57 245.83 L265.81 245.28 L266.04 244.72 L266.28 244.16 L266.51 243.61 L266.75 243.05 L266.98 242.49 L267.21 241.94 L267.45 241.38 L267.68 240.82 L267.91 240.26 L268.14 239.71 L268.38 239.15 L268.61 238.59 L268.84 238.04 L269.08 237.48 L269.31 236.93 L269.54 236.37 L269.77 235.81 L270 235.25 L270.23 234.7 L270.46 234.14 L270.69 233.58 L270.91 233.02 L271.14 232.46 L271.37 231.9 L271.59 231.34 L271.82 230.78 L272.04 230.22 L272.27 229.66 L272.49 229.1 L272.71 228.54 L272.94 227.98 L273.16 227.42 L273.38 226.86 L273.6 226.3 L273.82 225.74 L274.05 225.18 L274.27 224.61 L274.49 224.05 L274.71 223.49 L274.93 222.93 L275.15 222.37 L275.37 221.81 L275.59 221.24 L275.81 220.68 L276.03 220.12 L276.26 219.56 L276.48 219 L276.7 218.44 L276.92 217.88 L277.14 217.31 L277.36 216.75 L277.58 216.19 L277.8 215.63 L278.02 215.07 L278.24 214.5 L278.46 213.94 L278.67 213.38 L278.89 212.81 L279.1 212.25 L279.31 211.68 L279.52 211.12 L279.73 210.55 L279.94 209.99 L280.15 209.42 L280.35 208.85 L280.55 208.28 L280.75 207.72 L280.95 207.15 L281.14 206.58 L281.34 206.01 L281.53 205.44 L281.72 204.86 L281.91 204.29 L282.1 203.72 L282.28 203.15 L282.47 202.57 L282.65 202 L282.83 201.42 L283.01 200.85 L283.19 200.27 L283.37 199.69 L283.55 199.12 L283.73 198.54 L283.91 197.96 L284.08 197.39 L284.26 196.81 L284.43 196.23 L284.61 195.65 L284.78 195.08 L284.96 194.5 L285.13 193.92 L285.3 193.34 L285.48 192.76 L285.65 192.19 L285.83 191.61 L286 191.03 L286.17 190.45 L286.35 189.87 L286.53 189.3 L286.7 188.72 L286.88 188.14 L287.06 187.57 L287.23 186.99 L287.41 186.41 L287.58 185.84 L287.76 185.26 L287.94 184.68 L288.11 184.11 L288.29 183.53 L288.46 182.95 L288.64 182.37 L288.82 181.8 L288.99 181.22 L289.17 180.64 L289.34 180.07 L289.52 179.49 L289.69 178.91 L289.87 178.33 L290.04 177.76 L290.21 177.18 L290.39 176.6 L290.56 176.02 L290.73 175.44 L290.91 174.87 L291.08 174.29 L291.25 173.71 L291.43 173.13 L291.6 172.55 L291.77 171.98 L291.94 171.4 L292.12 170.82 L292.29 170.24 L292.46 169.66 L292.63 169.09 L292.8 168.51 L292.97 167.93 L293.14 167.35 L293.31 166.77 L293.48 166.19 L293.65 165.61 L293.82 165.03 L293.99 164.46 L294.16 163.88 L294.33 163.3 L294.5 162.72 L294.67 162.14 L294.83 161.56 L295 160.98 L295.17 160.4 L295.33 159.82 L295.5 159.24 L295.67 158.66 L295.83 158.08 L296 157.5" fill="none" stroke="#ff0000" stroke-width="2.5" stroke-dasharray="2.4 2.5" />
</g>
<line x1="38.3" y1="300" x2="515.3" y2="300" stroke="#00a21e" stroke-width="2" opacity="0.77"/>
<circle cx="67.5" cy="203.9" r="3.5" fill="#111"/>
<circle cx="228.5" cy="293.9" r="3.5" fill="#111"/>
<rect x="323.2" y="176.7" width="118.5" height="94.3" fill="#b9d9be"/>
<clipPath id="ci"><rect x="323.2" y="176.7" width="118.5" height="94.3"/></clipPath>
<g clip-path="url(#ci)">
<line x1="323.2" y1="269.5" x2="441.7" y2="269.5" stroke="#33b34a" stroke-width="1.1" />
<line x1="411.5" y1="176.7" x2="411.5" y2="271" stroke="#444" stroke-width="0.7" />
<path d="M323.2 268.4 L323.8 268.4 L324.41 268.4 L325.01 268.4 L325.62 268.4 L326.22 268.4 L326.83 268.4 L327.43 268.4 L328.03 268.4 L328.64 268.4 L329.24 268.4 L329.84 268.4 L330.45 268.4 L331.05 268.38 L331.66 268.34 L332.26 268.3 L332.86 268.25 L333.46 268.19 L334.06 268.13 L334.66 268.07 L335.26 267.99 L335.86 267.89 L336.46 267.77 L337.05 267.64 L337.63 267.5 L338.21 267.34 L338.78 267.16 L339.35 266.94 L339.91 266.71 L340.47 266.46 L341.01 266.19 L341.55 265.92 L342.08 265.65 L342.61 265.36 L343.13 265.06 L343.65 264.75 L344.17 264.43 L344.68 264.11 L345.18 263.77 L345.68 263.42 L346.18 263.07 L346.68 262.72 L347.17 262.36 L347.65 262 L348.13 261.63 L348.61 261.27 L349.08 260.9 L349.55 260.53 L350.02 260.15 L350.48 259.76 L350.94 259.37 L351.4 258.97 L351.85 258.57 L352.3 258.16 L352.75 257.75 L353.19 257.33 L353.63 256.92 L354.07 256.5 L354.5 256.08 L354.94 255.65 L355.37 255.23 L355.79 254.81 L356.22 254.38 L356.64 253.95 L357.06 253.52 L357.48 253.08 L357.9 252.65 L358.31 252.21 L358.72 251.76 L359.13 251.32 L359.54 250.87 L359.94 250.42 L360.35 249.97 L360.75 249.52 L361.15 249.06 L361.54 248.61 L361.94 248.15 L362.34 247.69 L362.73 247.23 L363.12 246.77 L363.51 246.32 L363.9 245.85 L364.29 245.39 L364.67 244.92 L365.05 244.46 L365.44 243.99 L365.81 243.52 L366.19 243.05 L366.57 242.58 L366.95 242.1 L367.32 241.63 L367.69 241.15 L368.07 240.68 L368.44 240.2 L368.81 239.72 L369.18 239.25 L369.55 238.77 L369.92 238.29 L370.29 237.81 L370.66 237.34 L371.03 236.86 L371.4 236.38 L371.77 235.9 L372.14 235.42 L372.5 234.94 L372.87 234.46 L373.24 233.98 L373.61 233.5 L373.97 233.02 L374.33 232.54 L374.7 232.06 L375.06 231.57 L375.42 231.09 L375.78 230.6 L376.13 230.11 L376.49 229.62 L376.84 229.13 L377.19 228.64 L377.54 228.15 L377.88 227.65 L378.22 227.16 L378.56 226.66 L378.9 226.15 L379.23 225.65 L379.56 225.15 L379.89 224.64 L380.22 224.13 L380.55 223.63 L380.88 223.12 L381.21 222.61 L381.54 222.11 L381.87 221.6 L382.2 221.1 L382.53 220.59 L382.87 220.09 L383.21 219.59 L383.55 219.09 L383.89 218.59 L384.23 218.1 L384.58 217.6 L384.92 217.1 L385.26 216.61 L385.61 216.11 L385.95 215.61 L386.3 215.12 L386.65 214.62 L386.99 214.13 L387.34 213.64 L387.69 213.14 L388.03 212.65 L388.38 212.15 L388.73 211.66 L389.07 211.16 L389.42 210.67 L389.77 210.17 L390.11 209.68 L390.46 209.18 L390.8 208.68 L391.14 208.18 L391.48 207.69 L391.82 207.19 L392.17 206.69 L392.51 206.19 L392.85 205.69 L393.2 205.2 L393.54 204.7 L393.89 204.21 L394.24 203.71 L394.59 203.22 L394.95 202.74 L395.31 202.25 L395.67 201.77 L396.03 201.28 L396.4 200.81 L396.76 200.33 L397.13 199.85 L397.5 199.37 L397.88 198.89 L398.25 198.41 L398.63 197.93 L399.01 197.46 L399.4 197 L399.79 196.53 L400.19 196.08 L400.59 195.63 L401.01 195.2 L401.43 194.77 L401.85 194.36 L402.3 193.95 L402.75 193.55 L403.21 193.16 L403.68 192.77 L404.16 192.4 L404.64 192.03 L405.12 191.66 L405.61 191.31 L406.1 190.96 L406.6 190.62 L407.1 190.28 L407.6 189.95 L408.12 189.63 L408.63 189.31 L409.15 189 L409.67 188.69 L410.19 188.38 L410.71 188.07 L411.23 187.76 L411.75 187.45 L412.27 187.15 L412.79 186.84 L413.31 186.54 L413.83 186.24 L414.36 185.94 L414.88 185.64 L415.4 185.34 L415.93 185.04 L416.46 184.75 L416.98 184.45 L417.51 184.16 L418.04 183.87 L418.57 183.58 L419.1 183.28 L419.63 182.99 L420.16 182.7 L420.69 182.42 L421.22 182.13 L421.75 181.84 L422.28 181.55 L422.81 181.26 L423.34 180.97 L423.88 180.68 L424.41 180.4 L424.94 180.11 L425.47 179.82 L426 179.53 L426.53 179.24 L427.06 178.95 L427.59 178.66 L428.12 178.36 L428.64 178.07 L429.17 177.78 L429.7 177.48 L430.23 177.19 L430.75 176.89 L431.28 176.59 L431.8 176.29 L432.33 176 L432.85 175.7 L433.38 175.4 L433.9 175.1 L434.43 174.8 L434.95 174.5 L435.48 174.2 L436 173.9" fill="none" stroke="#0000ff" stroke-width="2.5" />
<path d="M323.2 223.3 L323.76 223.08 L324.33 222.87 L324.89 222.65 L325.46 222.44 L326.02 222.22 L326.59 222 L327.15 221.79 L327.72 221.57 L328.28 221.35 L328.85 221.14 L329.41 220.92 L329.97 220.7 L330.54 220.48 L331.1 220.27 L331.67 220.05 L332.23 219.83 L332.79 219.61 L333.36 219.4 L333.92 219.18 L334.48 218.96 L335.05 218.74 L335.61 218.52 L336.17 218.3 L336.74 218.08 L337.3 217.86 L337.86 217.64 L338.43 217.42 L338.99 217.2 L339.55 216.98 L340.12 216.76 L340.68 216.54 L341.24 216.32 L341.81 216.1 L342.37 215.88 L342.93 215.66 L343.49 215.44 L344.06 215.22 L344.62 215 L345.18 214.78 L345.74 214.55 L346.31 214.33 L346.87 214.11 L347.43 213.89 L347.99 213.67 L348.55 213.44 L349.12 213.22 L349.68 213 L350.24 212.78 L350.8 212.55 L351.36 212.33 L351.93 212.11 L352.49 211.88 L353.05 211.66 L353.61 211.43 L354.17 211.21 L354.73 210.99 L355.29 210.76 L355.86 210.54 L356.42 210.31 L356.98 210.09 L357.54 209.86 L358.1 209.64 L358.66 209.41 L359.22 209.19 L359.78 208.96 L360.34 208.73 L360.9 208.51 L361.46 208.28 L362.02 208.05 L362.58 207.83 L363.14 207.6 L363.7 207.37 L364.26 207.14 L364.82 206.91 L365.38 206.69 L365.94 206.46 L366.5 206.23 L367.06 206 L367.62 205.77 L368.18 205.54 L368.74 205.32 L369.3 205.09 L369.86 204.86 L370.42 204.63 L370.98 204.4 L371.54 204.17 L372.1 203.94 L372.66 203.71 L373.22 203.48 L373.77 203.25 L374.33 203.02 L374.89 202.79 L375.45 202.56 L376.01 202.33 L376.57 202.1 L377.13 201.87 L377.69 201.64 L378.25 201.41 L378.8 201.18 L379.36 200.95 L379.92 200.72 L380.48 200.49 L381.04 200.25 L381.6 200.02 L382.16 199.79 L382.72 199.56 L383.27 199.33 L383.83 199.1 L384.39 198.87 L384.95 198.64 L385.51 198.41 L386.07 198.18 L386.63 197.95 L387.19 197.71 L387.74 197.48 L388.3 197.25 L388.86 197.02 L389.42 196.79 L389.98 196.56 L390.54 196.33 L391.1 196.1 L391.66 195.88 L392.22 195.65 L392.78 195.43 L393.35 195.2 L393.91 194.98 L394.47 194.75 L395.03 194.53 L395.6 194.31 L396.16 194.08 L396.72 193.86 L397.29 193.64 L397.85 193.41 L398.41 193.19 L398.98 192.97 L399.54 192.74 L400.1 192.52 L400.66 192.29 L401.22 192.07 L401.79 191.84 L402.35 191.61 L402.91 191.38 L403.46 191.15 L404.02 190.92 L404.58 190.69 L405.14 190.45 L405.69 190.21 L406.25 189.98 L406.8 189.74 L407.36 189.5 L407.91 189.25 L408.46 189.01 L409.01 188.76 L409.56 188.51 L410.1 188.26 L410.65 188 L411.19 187.75 L411.74 187.49 L412.28 187.22 L412.82 186.96 L413.36 186.69 L413.89 186.41 L414.43 186.14 L414.96 185.86 L415.5 185.58 L416.03 185.29 L416.56 185 L417.09 184.72 L417.62 184.42 L418.15 184.13 L418.68 183.84 L419.2 183.54 L419.73 183.24 L420.26 182.94 L420.78 182.64 L421.31 182.34 L421.83 182.04 L422.36 181.73 L422.88 181.43 L423.4 181.13 L423.93 180.82 L424.45 180.52 L424.97 180.21 L425.5 179.91 L426.02 179.6 L426.55 179.3 L427.07 178.99 L427.59 178.69 L428.12 178.39 L428.64 178.09 L429.17 177.78 L429.69 177.49 L430.22 177.19 L430.75 176.89 L431.27 176.59 L431.8 176.3 L432.32 176 L432.85 175.7 L433.38 175.4 L433.9 175.1 L434.43 174.8 L434.95 174.5 L435.48 174.2 L436 173.9" fill="none" stroke="#ff0000" stroke-width="1.6" stroke-dasharray="1.2 1.2" />
</g>
<circle cx="411.5" cy="187.6" r="2.3" fill="#111"/>
<rect x="323.2" y="176.7" width="118.5" height="94.3" fill="none" stroke="#111" stroke-width="1.5"/>
<line x1="460" y1="298.6" x2="460" y2="272" stroke="#33b34a" stroke-width="1.5" />
<line x1="449.9" y1="298.5" x2="469.4" y2="298.5" stroke="#33b34a" stroke-width="1.6" />
<path d="M460 263.6 l4.1 11 h-8.2 Z" fill="#33b34a"/>
<rect x="38.3" y="167.3" width="477" height="136.1" fill="none" stroke="#2a2a2a" stroke-width="0.85"/>
<rect x="561.4" y="2.2" width="163.2" height="136.8" fill="#ffffff" stroke="none"/>
<line x1="615.8" y1="139" x2="615.8" y2="136.6" stroke="#2a2a2a" stroke-width="0.8" />
<line x1="615.8" y1="2.2" x2="615.8" y2="4.6" stroke="#2a2a2a" stroke-width="0.8" />
<line x1="670.2" y1="139" x2="670.2" y2="136.6" stroke="#2a2a2a" stroke-width="0.8" />
<line x1="670.2" y1="2.2" x2="670.2" y2="4.6" stroke="#2a2a2a" stroke-width="0.8" />
<line x1="561.4" y1="45.7" x2="563.8" y2="45.7" stroke="#2a2a2a" stroke-width="0.8" />
<line x1="724.6" y1="45.7" x2="722.2" y2="45.7" stroke="#2a2a2a" stroke-width="0.8" />
<line x1="561.4" y1="89.2" x2="563.8" y2="89.2" stroke="#2a2a2a" stroke-width="0.8" />
<line x1="724.6" y1="89.2" x2="722.2" y2="89.2" stroke="#2a2a2a" stroke-width="0.8" />
<line x1="561.4" y1="132.7" x2="563.8" y2="132.7" stroke="#2a2a2a" stroke-width="0.8" />
<line x1="724.6" y1="132.7" x2="722.2" y2="132.7" stroke="#2a2a2a" stroke-width="0.8" />
<clipPath id="cb"><rect x="561.4" y="2.2" width="163.2" height="136.8"/></clipPath>
<g clip-path="url(#cb)">
<path d="M561.4 45.7 L562 45.7 L562.61 45.7 L563.21 45.7 L563.81 45.7 L564.41 45.7 L565.02 45.7 L565.62 45.7 L566.22 45.7 L566.82 45.7 L567.43 45.7 L568.03 45.7 L568.63 45.7 L569.23 45.7 L569.84 45.7 L570.44 45.7 L571.04 45.7 L571.64 45.7 L572.25 45.7 L572.85 45.7 L573.45 45.7 L574.05 45.7 L574.65 45.7 L575.26 45.69 L575.86 45.68 L576.46 45.65 L577.07 45.62 L577.67 45.58 L578.27 45.54 L578.87 45.49 L579.47 45.45 L580.07 45.39 L580.67 45.33 L581.29 45.26 L581.92 45.17 L582.54 45.07 L583.16 44.95 L583.77 44.82 L584.35 44.67 L584.91 44.5 L585.43 44.31 L585.91 44.09 L586.38 43.74 L586.82 43.29 L587.22 42.78 L587.56 42.27 L587.84 41.76 L588.1 41.21 L588.32 40.64 L588.52 40.06 L588.7 39.49 L588.86 38.91 L589.01 38.33 L589.14 37.74 L589.25 37.15 L589.37 36.55 L589.47 35.95 L589.57 35.36 L589.68 34.76 L589.79 34.16 L589.9 33.57 L590.02 32.98 L590.16 32.39 L590.31 31.82 L590.48 31.23 L590.66 30.57 L590.85 29.85 L591.06 29.11 L591.28 28.42 L591.53 27.8 L591.81 27.31 L592.11 27 L592.44 26.9 L592.92 27.07 L593.51 27.43 L594.04 27.85 L594.42 28.25 L594.75 28.71 L595.04 29.22 L595.3 29.76 L595.55 30.34 L595.8 30.92 L596.04 31.51 L596.29 32.08 L596.56 32.62 L596.85 33.16 L597.13 33.69 L597.42 34.22 L597.72 34.74 L598.01 35.27 L598.3 35.8 L598.59 36.33 L598.87 36.86 L599.15 37.39 L599.43 37.93 L599.69 38.47 L599.95 39.01 L600.2 39.56 L600.44 40.11 L600.68 40.66 L600.91 41.21 L601.14 41.77 L601.37 42.33 L601.59 42.89 L601.81 43.45 L602.02 44.01 L602.24 44.58 L602.45 45.14 L602.67 45.71 L602.89 46.27 L603.1 46.83 L603.32 47.39 L603.54 47.96 L603.77 48.52 L603.99 49.07 L604.23 49.63 L604.46 50.18 L604.7 50.73 L604.95 51.28 L605.19 51.84 L605.44 52.39 L605.69 52.93 L605.94 53.48 L606.19 54.03 L606.45 54.58 L606.7 55.12 L606.96 55.67 L607.22 56.21 L607.49 56.75 L607.76 57.29 L608.03 57.83 L608.3 58.37 L608.58 58.9 L608.86 59.43 L609.14 59.96 L609.42 60.51 L609.7 61.06 L609.98 61.61 L610.27 62.15 L610.56 62.69 L610.87 63.22 L611.19 63.74 L611.52 64.23 L611.87 64.7 L612.24 65.14 L612.69 65.6 L613.22 66.08 L613.73 66.46 L614.12 66.6 L614.41 66.39 L614.66 65.9 L614.89 65.23 L615.08 64.49 L615.24 63.78 L615.37 63.18 L615.47 62.6 L615.56 62.01 L615.64 61.41 L615.71 60.81 L615.78 60.21 L615.84 59.6 L615.91 59 L615.98 58.4 L616.07 57.8 L616.16 57.2 L616.27 56.57 L616.39 55.81 L616.52 55.06 L616.67 54.48 L616.87 54.2 L617.18 54.34 L617.66 54.77 L618.19 55.29 L618.64 55.74 L619.05 56.19 L619.45 56.66 L619.84 57.13 L620.24 57.59 L620.65 58.01 L621.11 58.38 L621.67 58.78 L622.26 59.15 L622.8 59.42 L623.16 59.49 L623.43 59.18 L623.65 58.56 L623.83 57.82 L623.97 57.12 L624.09 56.53 L624.19 55.94 L624.28 55.35 L624.36 54.75 L624.43 54.15 L624.5 53.55 L624.57 52.94 L624.65 52.34 L624.74 51.75 L624.83 51.15 L624.93 50.56 L625.03 49.96 L625.13 49.37 L625.23 48.78 L625.33 48.18 L625.44 47.59 L625.54 47 L625.65 46.4 L625.76 45.81 L625.87 45.22 L625.98 44.63 L626.09 44.03 L626.19 43.44 L626.3 42.84 L626.4 42.25 L626.52 41.65 L626.64 41.06 L626.78 40.48 L626.93 39.9 L627.09 39.31 L627.28 38.72 L627.49 38.12 L627.72 37.55 L627.98 37.02 L628.27 36.54 L628.65 36.05 L629.12 35.57 L629.64 35.25 L630.15 35.23 L630.7 35.47 L631.24 35.84 L631.73 36.24 L632.14 36.64 L632.5 37.1 L632.83 37.61 L633.16 38.15 L633.48 38.68 L633.83 39.18 L634.21 39.65 L634.6 40.11 L635 40.57 L635.42 41.02 L635.84 41.45 L636.28 41.87 L636.73 42.27 L637.2 42.63 L637.68 42.97 L638.19 43.29 L638.72 43.61 L639.26 43.89 L639.82 44.15 L640.37 44.36 L640.94 44.53 L641.51 44.69 L642.1 44.84 L642.69 44.97 L643.29 45.09 L643.89 45.19 L644.49 45.27 L645.09 45.33 L645.68 45.38 L646.28 45.43 L646.88 45.48 L647.48 45.52 L648.09 45.56 L648.69 45.6 L649.29 45.63 L649.9 45.66 L650.5 45.68 L651.1 45.69 L651.71 45.7 L652.31 45.7 L652.91 45.7 L653.51 45.7 L654.11 45.7 L654.72 45.7 L655.32 45.7 L655.92 45.7 L656.52 45.7 L657.12 45.7 L657.72 45.7 L658.33 45.7 L658.93 45.7 L659.53 45.7 L660.13 45.7 L660.73 45.7 L661.34 45.7 L661.94 45.7 L662.54 45.7 L663.14 45.7 L663.74 45.7 L664.35 45.7 L664.95 45.7 L665.55 45.7 L666.15 45.7 L666.75 45.7 L667.36 45.7 L667.96 45.7 L668.56 45.7 L669.16 45.7 L669.76 45.7 L670.37 45.7 L670.97 45.7 L671.57 45.7 L672.17 45.7 L672.77 45.7 L673.38 45.7 L673.98 45.7 L674.58 45.7 L675.18 45.7 L675.79 45.7 L676.39 45.7 L676.99 45.7 L677.59 45.7 L678.19 45.7 L678.8 45.7 L679.4 45.7 L680 45.7 L680.6 45.7 L681.2 45.7 L681.81 45.7 L682.41 45.7 L683.01 45.7 L683.61 45.7 L684.22 45.7 L684.82 45.7 L685.42 45.7 L686.02 45.7 L686.63 45.7 L687.23 45.7 L687.83 45.7 L688.43 45.7 L689.03 45.7 L689.64 45.7 L690.24 45.7 L690.84 45.7 L691.44 45.7 L692.05 45.7 L692.65 45.7 L693.25 45.7 L693.85 45.7 L694.46 45.7 L695.06 45.7 L695.66 45.7 L696.26 45.7 L696.87 45.7 L697.47 45.7 L698.07 45.7 L698.67 45.7 L699.28 45.7 L699.88 45.7 L700.48 45.7 L701.09 45.7 L701.69 45.7 L702.29 45.7 L702.89 45.7 L703.5 45.7 L704.1 45.7 L704.7 45.7 L705.3 45.7 L705.91 45.7 L706.51 45.7 L707.11 45.7 L707.72 45.7 L708.32 45.7 L708.92 45.7 L709.52 45.7 L710.13 45.7 L710.73 45.7 L711.33 45.7 L711.94 45.7 L712.54 45.7 L713.14 45.7 L713.74 45.7 L714.35 45.7 L714.95 45.7 L715.55 45.7 L716.16 45.7 L716.76 45.7 L717.36 45.7 L717.97 45.7 L718.57 45.7 L719.17 45.7 L719.77 45.7 L720.38 45.7 L720.98 45.7 L721.58 45.7 L722.19 45.7 L722.79 45.7 L723.39 45.7 L724 45.7 L724.6 45.7" fill="none" stroke="#0000ff" stroke-width="2.4" stroke-linejoin="round"/>
<path d="M561.4 45.7 L562.01 45.7 L562.61 45.7 L563.22 45.7 L563.82 45.7 L564.43 45.7 L565.03 45.7 L565.63 45.7 L566.24 45.7 L566.84 45.7 L567.44 45.7 L568.04 45.7 L568.65 45.7 L569.25 45.7 L569.85 45.7 L570.4 45.7 M579.46 46.19 L580 46.31 L580.58 46.47 L581.16 46.66 L581.74 46.87 L582.3 47.09 L582.84 47.33 L583.38 47.58 L583.92 47.87 L584.46 48.18 L584.99 48.51 L585.48 48.87 L585.94 49.25 L586.36 49.65 L586.73 50.08 L587.07 50.56 L587.09 50.58 M590.29 59.06 L590.42 59.6 L590.56 60.19 L590.69 60.77 L590.82 61.36 L590.94 61.95 L591.06 62.54 L591.18 63.13 L591.3 63.72 L591.41 64.31 L591.52 64.9 L591.63 65.5 L591.74 66.09 L591.85 66.68 L591.95 67.28 L592.05 67.87 L592.06 67.88 M593.46 76.87 L593.53 77.38 L593.61 77.98 L593.69 78.57 L593.78 79.17 L593.86 79.77 L593.94 80.36 L594.03 80.96 L594.11 81.55 L594.19 82.15 L594.28 82.75 L594.37 83.34 L594.45 83.94 L594.54 84.53 L594.63 85.13 L594.73 85.72 L594.73 85.78 M596.16 94.77 L596.23 95.23 L596.33 95.82 L596.42 96.42 L596.52 97.01 L596.61 97.6 L596.71 98.2 L596.81 98.79 L596.9 99.39 L597 99.98 L597.1 100.57 L597.19 101.17 L597.29 101.76 L597.39 102.36 L597.48 102.95 L597.57 103.54 L597.59 103.65 M599.02 112.64 L599.09 113.06 L599.2 113.65 L599.3 114.24 L599.41 114.83 L599.52 115.42 L599.63 116.01 L599.74 116.6 L599.86 117.19 L599.98 117.78 L600.1 118.37 L600.22 118.96 L600.34 119.55 L600.47 120.14 L600.59 120.73 L600.72 121.32 L600.75 121.47 M603.04 130.28 L603.16 130.65 L603.34 131.21 L603.53 131.78 L603.72 132.35 L603.92 132.92 L604.13 133.49 L604.34 134.06 L604.56 134.64 L604.79 135.21 L605.03 135.78 L605.28 136.34 L605.54 136.89 L605.81 137.43 L606.09 137.96 L606.38 138.48 L606.45 138.58" fill="none" stroke="#ff0000" stroke-width="2.4" />
<path d="M609.53 142 L609.93 141.81 L610.34 141.37 L610.73 140.77 L611.06 140.12 L611.15 139.87 M612.8 131.04 L612.87 130.65 L612.99 130.06 L613.11 129.46 L613.23 128.88 L613.35 128.29 L613.47 127.7 L613.59 127.11 L613.71 126.52 L613.84 125.93 L613.96 125.34 L614.08 124.75 L614.21 124.16 L614.33 123.57 L614.46 122.98 L614.58 122.4 L614.62 122.23 M616.33 113.39 L616.4 112.95 L616.5 112.35 L616.6 111.76 L616.69 111.16 L616.79 110.57 L616.88 109.98 L616.97 109.38 L617.07 108.79 L617.16 108.19 L617.25 107.6 L617.34 107 L617.43 106.41 L617.52 105.81 L617.6 105.22 L617.69 104.62 L617.71 104.5 M619.16 95.62 L619.25 95.12 L619.37 94.53 L619.48 93.94 L619.6 93.35 L619.72 92.76 L619.83 92.17 L619.95 91.58 L620.07 90.98 L620.18 90.39 L620.3 89.8 L620.41 89.21 L620.52 88.62 L620.62 88.03 L620.73 87.44 L620.82 86.84 L620.84 86.77 M621.92 77.84 L621.97 77.29 L622.03 76.69 L622.09 76.09 L622.15 75.49 L622.2 74.89 L622.26 74.29 L622.32 73.7 L622.38 73.1 L622.44 72.5 L622.5 71.9 L622.55 71.3 L622.61 70.7 L622.66 70.1 L622.71 69.5 L622.77 68.9 L622.77 68.88 M623.54 59.92 L623.54 59.91 L623.6 59.31 L623.66 58.71 L623.72 58.11 L623.79 57.52 L623.85 56.92 L623.92 56.32 L623.99 55.72 L624.06 55.13 L624.13 54.53 L624.21 53.93 L624.28 53.33 L624.36 52.73 L624.44 52.14 L624.52 51.54 L624.6 50.98 M626.27 42.14 L626.29 42.08 L626.45 41.5 L626.62 40.92 L626.79 40.35 L626.97 39.77 L627.15 39.19 L627.34 38.59 L627.55 38 L627.78 37.44 L628.04 36.91 L628.34 36.44 L628.74 35.95 L629.23 35.48 L629.75 35.22 L630.26 35.27 L630.72 35.49 M636.63 42.18 L636.82 42.34 L637.29 42.69 L637.78 43.03 L638.29 43.35 L638.82 43.66 L639.36 43.94 L639.92 44.19 L640.47 44.39 L641.04 44.56 L641.62 44.72 L642.2 44.87 L642.8 45 L643.4 45.11 L644 45.21 L644.59 45.28 L644.91 45.31 M653.9 45.7 L654.2 45.7 L654.81 45.7 L655.41 45.7 L656.01 45.7 L656.61 45.7 L657.21 45.7 L657.81 45.7 L658.41 45.7 L659.01 45.7 L659.61 45.7 L660.22 45.7 L660.82 45.7 L661.42 45.7 L662.02 45.7 L662.62 45.7 L662.9 45.7 M671.9 45.7 L672.24 45.7 L672.84 45.7 L673.44 45.7 L674.04 45.7 L674.65 45.7 L675.25 45.7 L675.85 45.7 L676.45 45.7 L677.05 45.7 L677.65 45.7 L678.25 45.7 L678.85 45.7 L679.46 45.7 L680.06 45.7 L680.66 45.7 L680.9 45.7 M689.9 45.7 L690.28 45.7 L690.89 45.7 L691.49 45.7 L692.09 45.7 L692.69 45.7 L693.29 45.7 L693.89 45.7 L694.5 45.7 L695.1 45.7 L695.7 45.7 L696.3 45.7 L696.9 45.7 L697.5 45.7 L698.11 45.7 L698.71 45.7 L698.9 45.7 M707.9 45.7 L708.34 45.7 L708.94 45.7 L709.54 45.7 L710.14 45.7 L710.75 45.7 L711.35 45.7 L711.95 45.7 L712.55 45.7 L713.16 45.7 L713.76 45.7 L714.36 45.7 L714.96 45.7 L715.56 45.7 L716.17 45.7 L716.77 45.7 L716.9 45.7" fill="none" stroke="#ff0000" stroke-width="2.4" />
</g>
<rect x="561.4" y="2.2" width="163.2" height="136.8" fill="none" stroke="#2a2a2a" stroke-width="0.85"/>
<rect x="775.7" y="2.2" width="163.1" height="136.8" fill="#ffffff" stroke="none"/>
<line x1="830.07" y1="139" x2="830.07" y2="136.6" stroke="#2a2a2a" stroke-width="0.8" />
<line x1="830.07" y1="2.2" x2="830.07" y2="4.6" stroke="#2a2a2a" stroke-width="0.8" />
<line x1="884.43" y1="139" x2="884.43" y2="136.6" stroke="#2a2a2a" stroke-width="0.8" />
<line x1="884.43" y1="2.2" x2="884.43" y2="4.6" stroke="#2a2a2a" stroke-width="0.8" />
<line x1="775.7" y1="6.3" x2="778.1" y2="6.3" stroke="#2a2a2a" stroke-width="0.8" />
<line x1="938.8" y1="6.3" x2="936.4" y2="6.3" stroke="#2a2a2a" stroke-width="0.8" />
<line x1="775.7" y1="28.6" x2="778.1" y2="28.6" stroke="#2a2a2a" stroke-width="0.8" />
<line x1="938.8" y1="28.6" x2="936.4" y2="28.6" stroke="#2a2a2a" stroke-width="0.8" />
<line x1="775.7" y1="51" x2="778.1" y2="51" stroke="#2a2a2a" stroke-width="0.8" />
<line x1="938.8" y1="51" x2="936.4" y2="51" stroke="#2a2a2a" stroke-width="0.8" />
<line x1="775.7" y1="73.4" x2="778.1" y2="73.4" stroke="#2a2a2a" stroke-width="0.8" />
<line x1="938.8" y1="73.4" x2="936.4" y2="73.4" stroke="#2a2a2a" stroke-width="0.8" />
<line x1="775.7" y1="96.3" x2="778.1" y2="96.3" stroke="#2a2a2a" stroke-width="0.8" />
<line x1="938.8" y1="96.3" x2="936.4" y2="96.3" stroke="#2a2a2a" stroke-width="0.8" />
<line x1="775.7" y1="118.9" x2="778.1" y2="118.9" stroke="#2a2a2a" stroke-width="0.8" />
<line x1="938.8" y1="118.9" x2="936.4" y2="118.9" stroke="#2a2a2a" stroke-width="0.8" />
<clipPath id="cc"><rect x="775.7" y="0.7" width="163.1" height="139.8"/></clipPath>
<g clip-path="url(#cc)">
<path d="M775.7 73.4 L776.3 73.4 L776.9 73.4 L777.51 73.4 L778.11 73.4 L778.71 73.4 L779.31 73.4 L779.91 73.4 L780.52 73.4 L781.12 73.4 L781.72 73.4 L782.32 73.4 L782.92 73.4 L783.52 73.4 L784.13 73.4 L784.73 73.4 L785.33 73.4 L785.93 73.4 L786.53 73.4 L787.13 73.4 L787.73 73.4 L788.34 73.4 L788.94 73.39 L789.54 73.37 L790.14 73.34 L790.75 73.3 L791.35 73.25 L791.94 73.21 L792.53 73.13 L793.13 73.01 L793.71 72.86 L794.29 72.69 L794.87 72.52 L795.43 72.31 L796 72.08 L796.55 71.83 L797.08 71.56 L797.6 71.26 L798.12 70.93 L798.62 70.58 L799.08 70.2 L799.5 69.79 L799.9 69.36 L800.29 68.89 L800.65 68.4 L801 67.88 L801.31 67.36 L801.6 66.82 L801.85 66.29 L802.08 65.75 L802.29 65.2 L802.49 64.63 L802.68 64.06 L802.86 63.48 L803.03 62.89 L803.19 62.3 L803.34 61.71 L803.48 61.12 L803.62 60.54 L803.76 59.95 L803.88 59.37 L804.01 58.78 L804.13 58.19 L804.24 57.6 L804.35 57.01 L804.46 56.42 L804.56 55.82 L804.66 55.23 L804.76 54.63 L804.85 54.04 L804.95 53.44 L805.04 52.85 L805.14 52.25 L805.23 51.66 L805.33 51.06 L805.42 50.47 L805.52 49.87 L805.61 49.28 L805.7 48.68 L805.79 48.09 L805.88 47.49 L805.96 46.9 L806.05 46.3 L806.13 45.71 L806.22 45.11 L806.3 44.52 L806.39 43.92 L806.47 43.32 L806.56 42.73 L806.65 42.13 L806.74 41.54 L806.82 40.94 L806.91 40.35 L807.01 39.75 L807.1 39.16 L807.19 38.57 L807.29 37.97 L807.38 37.38 L807.48 36.78 L807.58 36.19 L807.67 35.6 L807.77 35 L807.87 34.41 L807.97 33.81 L808.07 33.22 L808.17 32.63 L808.27 32.03 L808.37 31.44 L808.47 30.85 L808.57 30.26 L808.67 29.66 L808.78 29.07 L808.88 28.48 L808.99 27.88 L809.09 27.29 L809.19 26.7 L809.3 26.11 L809.4 25.51 L809.51 24.92 L809.61 24.33 L809.72 23.74 L809.83 23.14 L809.93 22.55 L810.04 21.96 L810.15 21.37 L810.27 20.78 L810.38 20.19 L810.49 19.6 L810.61 19.01 L810.73 18.42 L810.85 17.83 L810.98 17.24 L811.1 16.65 L811.22 16.06 L811.35 15.47 L811.48 14.88 L811.6 14.29 L811.74 13.7 L811.87 13.11 L812.01 12.53 L812.16 11.94 L812.31 11.36 L812.46 10.78 L812.62 10.2 L812.79 9.63 L812.96 9.05 L813.14 8.46 L813.33 7.87 L813.52 7.27 L813.73 6.69 L813.95 6.13 L814.2 5.59 L814.47 5.08 L814.77 4.6 L815.15 4.08 L815.61 3.55 L816.1 3.13 L816.58 2.91 L817.04 2.99 L817.53 3.34 L818 3.84 L818.4 4.39 L818.71 4.89 L818.97 5.39 L819.2 5.93 L819.42 6.5 L819.61 7.08 L819.79 7.68 L819.96 8.28 L820.11 8.88 L820.27 9.47 L820.41 10.05 L820.55 10.63 L820.69 11.21 L820.82 11.8 L820.95 12.38 L821.07 12.97 L821.19 13.56 L821.3 14.16 L821.41 14.75 L821.52 15.34 L821.63 15.94 L821.73 16.53 L821.83 17.13 L821.93 17.72 L822.03 18.32 L822.13 18.91 L822.22 19.51 L822.32 20.1 L822.41 20.69 L822.5 21.29 L822.59 21.88 L822.68 22.48 L822.77 23.07 L822.85 23.67 L822.94 24.26 L823.02 24.86 L823.1 25.46 L823.18 26.05 L823.26 26.65 L823.34 27.25 L823.41 27.84 L823.49 28.44 L823.57 29.04 L823.64 29.64 L823.72 30.23 L823.79 30.83 L823.87 31.43 L823.94 32.02 L824.02 32.62 L824.09 33.22 L824.16 33.82 L824.23 34.41 L824.3 35.01 L824.37 35.61 L824.44 36.21 L824.51 36.8 L824.58 37.4 L824.65 38 L824.71 38.6 L824.78 39.19 L824.85 39.79 L824.91 40.39 L824.98 40.99 L825.05 41.59 L825.11 42.19 L825.18 42.78 L825.25 43.38 L825.31 43.98 L825.38 44.58 L825.45 45.18 L825.52 45.77 L825.59 46.37 L825.65 46.97 L825.72 47.57 L825.79 48.16 L825.86 48.76 L825.93 49.36 L825.99 49.96 L826.06 50.56 L826.13 51.15 L826.2 51.75 L826.26 52.35 L826.33 52.95 L826.4 53.55 L826.47 54.14 L826.54 54.74 L826.61 55.34 L826.68 55.94 L826.75 56.53 L826.82 57.13 L826.89 57.73 L826.96 58.33 L827.04 58.92 L827.11 59.52 L827.19 60.12 L827.26 60.71 L827.34 61.31 L827.42 61.91 L827.5 62.5 L827.58 63.1 L827.66 63.7 L827.74 64.29 L827.82 64.89 L827.9 65.48 L827.99 66.08 L828.07 66.68 L828.16 67.27 L828.24 67.87 L828.33 68.46 L828.42 69.06 L828.51 69.65 L828.6 70.25 L828.69 70.84 L828.78 71.44 L828.88 72.03 L828.97 72.63 L829.07 73.22 L829.17 73.81 L829.27 74.4 L829.37 75 L829.48 75.59 L829.59 76.18 L829.69 76.77 L829.81 77.36 L829.92 77.96 L830.03 78.55 L830.15 79.14 L830.26 79.73 L830.38 80.32 L830.5 80.91 L830.61 81.5 L830.73 82.09 L830.85 82.68 L830.97 83.27 L831.09 83.86 L831.21 84.45 L831.33 85.04 L831.45 85.63 L831.57 86.22 L831.69 86.81 L831.81 87.4 L831.94 87.98 L832.07 88.57 L832.2 89.16 L832.33 89.75 L832.45 90.34 L832.58 90.92 L832.71 91.51 L832.83 92.1 L832.95 92.69 L833.07 93.28 L833.19 93.87 L833.3 94.46 L833.41 95.05 L833.51 95.64 L833.62 96.24 L833.72 96.83 L833.82 97.42 L833.91 98.02 L834.01 98.61 L834.1 99.21 L834.2 99.8 L834.29 100.39 L834.38 100.99 L834.47 101.58 L834.56 102.18 L834.65 102.78 L834.74 103.37 L834.83 103.97 L834.91 104.56 L835 105.16 L835.09 105.75 L835.18 106.35 L835.27 106.94 L835.35 107.54 L835.44 108.13 L835.53 108.73 L835.61 109.32 L835.7 109.92 L835.78 110.52 L835.87 111.11 L835.95 111.71 L836.03 112.3 L836.12 112.9 L836.2 113.49 L836.28 114.09 L836.36 114.69 L836.45 115.28 L836.53 115.88 L836.61 116.47 L836.69 117.07 L836.77 117.67 L836.86 118.26 L836.94 118.86 L837.02 119.46 L837.1 120.05 L837.19 120.65 L837.27 121.24 L837.35 121.84 L837.43 122.44 L837.52 123.03 L837.6 123.63 L837.68 124.22 L837.76 124.82 L837.84 125.42 L837.92 126.01 L838 126.61 L838.08 127.21 L838.16 127.8 L838.24 128.4 L838.32 129 L838.41 129.59 L838.49 130.19 L838.58 130.78 L838.66 131.38 L838.75 131.97 L838.85 132.57 L838.94 133.16 L839.04 133.76 L839.15 134.46 L839.26 135.23 L839.38 136.01 L839.5 136.77 L839.62 137.45 L839.74 138.02 L839.86 138.41 L839.98 138.59 L840.09 138.52 L840.21 138.21 L840.33 137.71 L840.45 137.07 L840.57 136.34 L840.69 135.56 L840.8 134.78 L840.91 134.05 L841.02 133.41 L841.11 132.82 L841.2 132.22 L841.29 131.63 L841.38 131.03 L841.46 130.44 L841.55 129.84 L841.63 129.24 L841.71 128.65 L841.78 128.05 L841.86 127.45 L841.94 126.86 L842.02 126.26 L842.1 125.66 L842.18 125.07 L842.27 124.47 L842.35 123.88 L842.44 123.28 L842.53 122.69 L842.63 122.09 L842.72 121.5 L842.82 120.91 L842.92 120.31 L843.02 119.72 L843.13 119.13 L843.23 118.53 L843.34 117.94 L843.44 117.35 L843.55 116.76 L843.66 116.17 L843.77 115.57 L843.88 114.98 L843.99 114.39 L844.1 113.8 L844.21 113.21 L844.32 112.61 L844.43 112.02 L844.53 111.43 L844.64 110.84 L844.75 110.25 L844.86 109.65 L844.96 109.06 L845.06 108.47 L845.17 107.88 L845.27 107.28 L845.37 106.69 L845.47 106.1 L845.56 105.5 L845.66 104.91 L845.75 104.31 L845.84 103.72 L845.93 103.12 L846.02 102.53 L846.11 101.93 L846.19 101.34 L846.28 100.74 L846.37 100.15 L846.46 99.55 L846.55 98.96 L846.64 98.36 L846.74 97.77 L846.83 97.17 L846.93 96.58 L847.03 95.99 L847.13 95.39 L847.24 94.8 L847.34 94.21 L847.45 93.62 L847.56 93.03 L847.67 92.43 L847.78 91.84 L847.89 91.25 L848.01 90.66 L848.13 90.07 L848.25 89.48 L848.38 88.89 L848.5 88.3 L848.64 87.71 L848.77 87.13 L848.91 86.55 L849.06 85.96 L849.21 85.38 L849.37 84.8 L849.53 84.22 L849.7 83.64 L849.88 83.06 L850.06 82.48 L850.26 81.92 L850.46 81.35 L850.68 80.8 L850.92 80.25 L851.17 79.7 L851.45 79.16 L851.74 78.63 L852.04 78.11 L852.36 77.6 L852.7 77.1 L853.07 76.61 L853.46 76.14 L853.87 75.71 L854.32 75.34 L854.81 74.98 L855.34 74.65 L855.88 74.39 L856.43 74.19 L857.01 74.01 L857.6 73.87 L858.2 73.75 L858.79 73.66 L859.38 73.57 L859.98 73.49 L860.58 73.43 L861.18 73.4 L861.78 73.4 L862.38 73.4 L862.98 73.4 L863.58 73.4 L864.18 73.4 L864.78 73.4 L865.38 73.4 L865.98 73.4 L866.58 73.4 L867.18 73.4 L867.78 73.4 L868.38 73.4 L868.98 73.4 L869.58 73.4 L870.18 73.4 L870.78 73.4 L871.38 73.4 L871.98 73.4 L872.58 73.4 L873.18 73.4 L873.78 73.4 L874.38 73.4 L874.98 73.4 L875.58 73.4 L876.18 73.4 L876.78 73.4 L877.38 73.4 L877.98 73.4 L878.58 73.4 L879.18 73.4 L879.78 73.4 L880.38 73.4 L880.98 73.4 L881.58 73.4 L882.18 73.4 L882.78 73.4 L883.38 73.4 L883.98 73.4 L884.58 73.4 L885.18 73.4 L885.78 73.4 L886.38 73.4 L886.98 73.4 L887.58 73.4 L888.18 73.4 L888.78 73.4 L889.38 73.4 L889.98 73.4 L890.59 73.4 L891.19 73.4 L891.79 73.4 L892.39 73.4 L892.99 73.4 L893.59 73.4 L894.19 73.4 L894.79 73.4 L895.39 73.4 L895.99 73.4 L896.6 73.4 L897.2 73.4 L897.8 73.4 L898.4 73.4 L899 73.4 L899.6 73.4 L900.2 73.4 L900.8 73.4 L901.41 73.4 L902.01 73.4 L902.61 73.4 L903.21 73.4 L903.81 73.4 L904.41 73.4 L905.02 73.4 L905.62 73.4 L906.22 73.4 L906.82 73.4 L907.42 73.4 L908.03 73.4 L908.63 73.4 L909.23 73.4 L909.83 73.4 L910.43 73.4 L911.04 73.4 L911.64 73.4 L912.24 73.4 L912.84 73.4 L913.45 73.4 L914.05 73.4 L914.65 73.4 L915.25 73.4 L915.86 73.4 L916.46 73.4 L917.06 73.4 L917.66 73.4 L918.27 73.4 L918.87 73.4 L919.47 73.4 L920.08 73.4 L920.68 73.4 L921.28 73.4 L921.89 73.4 L922.49 73.4 L923.09 73.4 L923.7 73.4 L924.3 73.4 L924.9 73.4 L925.51 73.4 L926.11 73.4 L926.71 73.4 L927.32 73.4 L927.92 73.4 L928.52 73.4 L929.13 73.4 L929.73 73.4 L930.34 73.4 L930.94 73.4 L931.54 73.4 L932.15 73.4 L932.75 73.4 L933.36 73.4 L933.96 73.4 L934.57 73.4 L935.17 73.4 L935.78 73.4 L936.38 73.4 L936.99 73.4 L937.59 73.4 L938.2 73.4 L938.8 73.4" fill="none" stroke="#0000ff" stroke-width="2.5" stroke-linejoin="round"/>
<path d="M775.7 73.4 L938.8 73.4" fill="none" stroke="#ff0000" stroke-width="2.5" stroke-dasharray="9 9" />
</g>
<rect x="775.7" y="2.2" width="163.1" height="136.8" fill="none" stroke="#2a2a2a" stroke-width="0.85"/>
<rect x="561.2" y="166" width="163.4" height="137.1" fill="#ffffff" stroke="none"/>
<line x1="615.67" y1="303.1" x2="615.67" y2="300.7" stroke="#2a2a2a" stroke-width="0.8" />
<line x1="615.67" y1="166" x2="615.67" y2="168.4" stroke="#2a2a2a" stroke-width="0.8" />
<line x1="670.13" y1="303.1" x2="670.13" y2="300.7" stroke="#2a2a2a" stroke-width="0.8" />
<line x1="670.13" y1="166" x2="670.13" y2="168.4" stroke="#2a2a2a" stroke-width="0.8" />
<line x1="561.2" y1="193.4" x2="563.6" y2="193.4" stroke="#2a2a2a" stroke-width="0.8" />
<line x1="724.6" y1="193.4" x2="722.2" y2="193.4" stroke="#2a2a2a" stroke-width="0.8" />
<line x1="561.2" y1="221" x2="563.6" y2="221" stroke="#2a2a2a" stroke-width="0.8" />
<line x1="724.6" y1="221" x2="722.2" y2="221" stroke="#2a2a2a" stroke-width="0.8" />
<line x1="561.2" y1="248.5" x2="563.6" y2="248.5" stroke="#2a2a2a" stroke-width="0.8" />
<line x1="724.6" y1="248.5" x2="722.2" y2="248.5" stroke="#2a2a2a" stroke-width="0.8" />
<line x1="561.2" y1="275.9" x2="563.6" y2="275.9" stroke="#2a2a2a" stroke-width="0.8" />
<line x1="724.6" y1="275.9" x2="722.2" y2="275.9" stroke="#2a2a2a" stroke-width="0.8" />
<clipPath id="ce"><rect x="561.2" y="166" width="163.4" height="137.1"/></clipPath>
<g clip-path="url(#ce)">
<path d="M561.2 182.5 L568 193 L575.4 204.4 " fill="none" stroke="#0000ff" stroke-width="2.4" />
<path d="M575.4 204.4 L575.41 205 L575.43 205.6 L575.44 206.21 L575.46 206.81 L575.47 207.41 L575.49 208.01 L575.5 208.61 L575.52 209.22 L575.54 209.82 L575.55 210.42 L575.57 211.02 L575.59 211.62 L575.61 212.22 L575.63 212.83 L575.64 213.43 L575.66 214.03 L575.68 214.63 L575.7 215.23 L575.72 215.84 L575.74 216.44 L575.76 217.04 L575.79 217.64 L575.81 218.24 L575.83 218.84 L575.86 219.45 L575.88 220.05 L575.91 220.65 L575.94 221.25 L575.97 221.85 L576 222.45 L576.03 223.05 L576.07 223.65 L576.11 224.25 L576.15 224.85 L576.19 225.46 L576.24 226.06 L576.29 226.66 L576.34 227.26 L576.39 227.86 L576.45 228.46 L576.5 229.06 L576.56 229.66 L576.62 230.25 L576.68 230.85 L576.75 231.45 L576.82 232.05 L576.89 232.65 L576.96 233.25 L577.04 233.84 L577.12 234.44 L577.21 235.04 L577.3 235.63 L577.4 236.23 L577.5 236.82 L577.6 237.41 L577.71 238 L577.82 238.6 L577.94 239.19 L578.07 239.79 L578.2 240.39 L578.33 240.98 L578.48 241.58 L578.63 242.16 L578.79 242.75 L578.96 243.32 L579.14 243.89 L579.33 244.44 L579.53 244.99 L579.77 245.53 L580.04 246.05 L580.34 246.57 L580.66 247.08 L581 247.58 L581.36 248.08 L581.71 248.58 L582.07 249.08 L582.42 249.58 L582.76 250.08 L583.1 250.58 L583.46 251.07 L583.82 251.56 L584.16 252.06 L584.47 252.56 L584.75 253.09 L585.01 253.63 L585.27 254.17 L585.52 254.73 L585.76 255.29 L585.98 255.86 L586.17 256.43 L586.35 257.01 L586.5 257.58 L586.62 258.16 L586.74 258.75 L586.85 259.34 L586.95 259.93 L587.04 260.53 L587.13 261.13 L587.21 261.73 L587.29 262.33 L587.37 262.93 L587.44 263.53 L587.52 264.13 L587.59 264.72 L587.66 265.32 L587.72 265.92 L587.79 266.52 L587.85 267.12 L587.91 267.72 L587.96 268.32 L588.02 268.92 L588.08 269.52 L588.13 270.11 L588.19 270.71 L588.24 271.31 L588.3 271.91 L588.35 272.51 L588.41 273.11 L588.47 273.71 L588.52 274.31 L588.58 274.91 L588.63 275.51 L588.68 276.11 L588.74 276.71 L588.79 277.31 L588.84 277.91 L588.89 278.51 L588.95 279.11 L589 279.71 L589.05 280.31 L589.11 280.91 L589.16 281.51 L589.22 282.11 L589.27 282.71 L589.33 283.32 L589.38 284.01 L589.44 284.76 L589.49 285.55 L589.54 286.35 L589.6 287.13 L589.66 287.86 L589.72 288.52 L589.78 289.08 L589.85 289.52 L589.92 289.8 L590 289.9 L590.09 289.75 L590.2 289.36 L590.32 288.77 L590.44 288.05 L590.58 287.28 L590.71 286.5 L590.84 285.79 L590.97 285.19 L591.09 284.6 L591.22 284.01 L591.36 283.42 L591.49 282.84 L591.62 282.25 L591.76 281.66 L591.89 281.07 L592.03 280.49 L592.16 279.9 L592.29 279.31 L592.42 278.72 L592.55 278.14 L592.67 277.55 L592.79 276.96 L592.91 276.37 L593.03 275.78 L593.14 275.19 L593.26 274.6 L593.37 274.01 L593.49 273.41 L593.6 272.82 L593.71 272.23 L593.82 271.64 L593.93 271.05 L594.04 270.46 L594.15 269.86 L594.26 269.27 L594.37 268.68 L594.48 268.09 L594.59 267.49 L594.69 266.9 L594.8 266.31 L594.91 265.72 L595.02 265.12 L595.12 264.53 L595.23 263.94 L595.34 263.35 L595.44 262.75 L595.55 262.16 L595.66 261.57 L595.77 260.98 L595.87 260.38 L595.98 259.79 L596.08 259.2 L596.19 258.61 L596.29 258.01 L596.4 257.42 L596.5 256.83 L596.61 256.23 L596.71 255.64 L596.82 255.05 L596.92 254.46 L597.02 253.86 L597.13 253.27 L597.23 252.68 L597.33 252.08 L597.44 251.49 L597.54 250.9 L597.65 250.3 L597.75 249.71 L597.85 249.12 L597.95 248.52 L598.05 247.93 L598.15 247.34 L598.25 246.74 L598.35 246.15 L598.45 245.55 L598.54 244.96 L598.64 244.36 L598.74 243.77 L598.84 243.17 L598.94 242.58 L599.04 241.99 L599.15 241.39 L599.25 240.8 L599.36 240.21 L599.47 239.62 L599.58 239.03 L599.69 238.44 L599.81 237.85 L599.93 237.26 L600.05 236.67 L600.18 236.08 L600.31 235.49 L600.44 234.91 L600.57 234.32 L600.71 233.73 L600.85 233.14 L600.99 232.56 L601.13 231.97 L601.28 231.39 L601.43 230.8 L601.58 230.22 L601.73 229.64 L601.88 229.05 L602.04 228.47 L602.2 227.89 L602.36 227.31 L602.52 226.73 L602.68 226.15 L602.85 225.57 L603.02 225 L603.18 224.42 L603.35 223.83 L603.52 223.25 L603.69 222.67 L603.86 222.08 L604.04 221.5 L604.22 220.92 L604.41 220.34 L604.6 219.77 L604.8 219.2 L605 218.63 L605.22 218.08 L605.44 217.53 L605.68 216.98 L605.92 216.45 L606.19 215.9 L606.46 215.34 L606.76 214.78 L607.08 214.23 L607.41 213.69 L607.77 213.18 L608.14 212.72 L608.53 212.31 L608.95 211.96 L609.41 211.65 L609.93 211.34 L610.49 211.05 L611.07 210.8 L611.67 210.6 L612.26 210.45 L612.84 210.37 L613.44 210.31 L614.05 210.26 L614.65 210.22 L615.26 210.2 L615.85 210.22 L616.45 210.34 L617.04 210.54 L617.6 210.77 L618.12 211.01 L618.63 211.31 L619.12 211.67 L619.59 212.08 L620.04 212.52 L620.46 212.97 L620.84 213.43 L621.19 213.9 L621.5 214.41 L621.78 214.94 L622.06 215.49 L622.35 216.03 L622.64 216.56 L622.93 217.1 L623.22 217.64 L623.52 218.17 L623.85 218.64 L624.23 219.07 L624.64 219.48 L625.07 219.87 L625.54 220.25 L626.02 220.61 L626.52 220.96 L627.03 221.3 L627.55 221.64 L628.07 221.98 L628.59 222.31 L629.11 222.65 L629.61 222.99 L630.1 223.35 L630.59 223.7 L631.07 224.06 L631.56 224.42 L632.04 224.78 L632.53 225.14 L633.01 225.5 L633.5 225.86 L633.99 226.21 L634.48 226.56 L634.98 226.91 L635.47 227.24 L635.98 227.57 L636.48 227.9 L636.99 228.21 L637.5 228.52 L638.02 228.82 L638.54 229.11 L639.07 229.4 L639.6 229.68 L640.14 229.96 L640.68 230.23 L641.22 230.5 L641.76 230.77 L642.3 231.03 L642.85 231.29 L643.39 231.55 L643.94 231.8 L644.49 232.06 L645.03 232.31 L645.58 232.56 L646.13 232.8 L646.68 233.05 L647.23 233.29 L647.79 233.53 L648.34 233.77 L648.9 234 L649.46 234.23 L650.01 234.45 L650.58 234.67 L651.14 234.89 L651.7 235.09 L652.27 235.29 L652.83 235.49 L653.4 235.68 L653.98 235.87 L654.55 236.05 L655.13 236.23 L655.7 236.4 L656.28 236.57 L656.86 236.75 L657.44 236.91 L658.02 237.08 L658.59 237.25 L659.17 237.42 L659.75 237.59 L660.33 237.75 L660.91 237.92 L661.49 238.09 L662.06 238.26 L662.64 238.43 L663.22 238.59 L663.8 238.76 L664.38 238.92 L664.96 239.07 L665.55 239.23 L666.13 239.38 L666.71 239.53 L667.29 239.67 L667.88 239.81 L668.47 239.95 L669.05 240.09 L669.64 240.22 L670.23 240.35 L670.81 240.48 L671.4 240.61 L671.99 240.74 L672.58 240.86 L673.17 240.98 L673.76 241.1 L674.35 241.21 L674.94 241.33 L675.54 241.44 L676.13 241.55 L676.72 241.66 L677.31 241.76 L677.91 241.87 L678.5 241.97 L679.09 242.07 L679.69 242.17 L680.28 242.27 L680.88 242.37 L681.47 242.46 L682.06 242.56 L682.66 242.65 L683.26 242.74 L683.85 242.83 L684.45 242.92 L685.04 243.01 L685.64 243.09 L686.23 243.18 L686.83 243.26 L687.42 243.35 L688.02 243.43 L688.62 243.51 L689.21 243.59 L689.81 243.67 L690.41 243.75 L691.01 243.83 L691.6 243.9 L692.2 243.97 L692.8 244.05 L693.4 244.12 L693.99 244.19 L694.59 244.25 L695.19 244.32 L695.79 244.39 L696.39 244.45 L696.99 244.51 L697.59 244.58 L698.18 244.64 L698.78 244.7 L699.38 244.76 L699.98 244.82 L700.58 244.88 L701.18 244.94 L701.78 245 L702.38 245.06 L702.98 245.11 L703.58 245.17 L704.18 245.22 L704.78 245.27 L705.38 245.33 L705.98 245.38 L706.58 245.43 L707.18 245.48 L707.78 245.53 L708.38 245.58 L708.98 245.62 L709.58 245.67 L710.18 245.71 L710.78 245.76 L711.38 245.8 L711.98 245.84 L712.58 245.89 L713.18 245.93 L713.78 245.97 L714.38 246.01 L714.98 246.05 L715.58 246.09 L716.18 246.13 L716.78 246.17 L717.38 246.21 L717.99 246.24 L718.59 246.28 L719.19 246.32 L719.79 246.35 L720.39 246.38 L720.99 246.42 L721.59 246.45 L722.19 246.48 L722.8 246.51 L723.4 246.54 L724 246.57 L724.6 246.6" fill="none" stroke="#0000ff" stroke-width="2.4" stroke-linejoin="round"/>
<path d="M561.2 182.5 L566.09 190.05 M570.99 197.61 L575.4 204.4 L575.9 204.76 L576.14 204.91 M584.78 205.44 L585.15 205.28 L585.68 205.01 L586.18 204.69 L586.68 204.33 L587.17 203.95 L587.65 203.57 L588.13 203.2 L588.6 202.83 L589.06 202.44 L589.52 202.04 L589.98 201.65 L590.44 201.26 L590.92 200.89 L591.4 200.51 L591.87 200.14 L591.97 200.06 M600.3 197.66 L600.84 197.79 L601.39 198.01 L601.94 198.29 L602.48 198.6 L603 198.9 L603.52 199.21 L604.02 199.54 L604.52 199.88 L605.01 200.24 L605.5 200.6 L605.97 200.98 L606.44 201.36 L606.89 201.76 L607.33 202.17 L607.75 202.57 M614.04 209 L614.1 209.07 L614.52 209.51 L614.94 209.94 L615.37 210.37 L615.8 210.79 L616.23 211.22 L616.66 211.63 L617.1 212.05 L617.54 212.47 L617.98 212.89 L618.42 213.3 L618.86 213.72 L619.29 214.13 L619.73 214.55 L620.17 214.97 L620.49 215.27 M627.17 221.27 L627.34 221.4 L627.84 221.75 L628.34 222.1 L628.84 222.44 L629.33 222.79 L629.82 223.14 L630.31 223.5 L630.8 223.86 L631.29 224.22 L631.77 224.58 L632.26 224.94 L632.75 225.31 L633.23 225.66 L633.73 226.02 L634.22 226.37 L634.46 226.55 M642.26 231.01 L642.58 231.17 L643.13 231.43 L643.68 231.68 L644.23 231.94 L644.78 232.19 L645.33 232.44 L645.88 232.69 L646.43 232.94 L646.98 233.18 L647.54 233.42 L648.09 233.66 L648.65 233.9 L649.21 234.13 L649.77 234.36 L650.33 234.58 L650.5 234.64 M659.06 237.39 L659.53 237.52 L660.11 237.69 L660.69 237.86 L661.27 238.03 L661.85 238.2 L662.43 238.37 L663.01 238.53 L663.6 238.7 L664.18 238.86 L664.76 239.02 L665.34 239.18 L665.93 239.33 L666.51 239.48 L667.1 239.62 L667.69 239.77 L667.74 239.78 M676.55 241.62 L676.55 241.63 L677.15 241.73 L677.74 241.84 L678.34 241.94 L678.94 242.04 L679.53 242.14 L680.13 242.24 L680.72 242.34 L681.32 242.44 L681.92 242.53 L682.51 242.63 L683.11 242.72 L683.71 242.81 L684.31 242.9 L684.9 242.99 L685.43 243.06 M694.35 244.23 L694.49 244.24 L695.09 244.31 L695.69 244.38 L696.29 244.44 L696.89 244.5 L697.49 244.57 L698.09 244.63 L698.69 244.69 L699.29 244.75 L699.9 244.81 L700.5 244.87 L701.1 244.93 L701.7 244.99 L702.3 245.05 L702.9 245.1 L703.31 245.14 M712.28 245.87 L712.54 245.88 L713.14 245.93 L713.74 245.97 L714.35 246.01 L714.95 246.05 L715.55 246.09 L716.15 246.13 L716.76 246.17 L717.36 246.21 L717.96 246.24 L718.57 246.28 L719.17 246.31 L719.77 246.35 L720.38 246.38 L720.98 246.42 L721.26 246.43" fill="none" stroke="#ff0000" stroke-width="2.4" />
</g>
<rect x="561.2" y="166" width="163.4" height="137.1" fill="none" stroke="#2a2a2a" stroke-width="0.85"/>
<rect x="775.2" y="165.7" width="162.8" height="137.4" fill="#ffffff" stroke="none"/>
<line x1="829.47" y1="303.1" x2="829.47" y2="300.7" stroke="#2a2a2a" stroke-width="0.8" />
<line x1="829.47" y1="165.7" x2="829.47" y2="168.1" stroke="#2a2a2a" stroke-width="0.8" />
<line x1="883.73" y1="303.1" x2="883.73" y2="300.7" stroke="#2a2a2a" stroke-width="0.8" />
<line x1="883.73" y1="165.7" x2="883.73" y2="168.1" stroke="#2a2a2a" stroke-width="0.8" />
<line x1="775.2" y1="200" x2="777.6" y2="200" stroke="#2a2a2a" stroke-width="0.8" />
<line x1="938" y1="200" x2="935.6" y2="200" stroke="#2a2a2a" stroke-width="0.8" />
<line x1="775.2" y1="234.3" x2="777.6" y2="234.3" stroke="#2a2a2a" stroke-width="0.8" />
<line x1="938" y1="234.3" x2="935.6" y2="234.3" stroke="#2a2a2a" stroke-width="0.8" />
<line x1="775.2" y1="268.7" x2="777.6" y2="268.7" stroke="#2a2a2a" stroke-width="0.8" />
<line x1="938" y1="268.7" x2="935.6" y2="268.7" stroke="#2a2a2a" stroke-width="0.8" />
<clipPath id="cf"><rect x="775.2" y="164.2" width="162.8" height="140.4"/></clipPath>
<g clip-path="url(#cf)">
<path d="M775.2 302.8 L775.37 302.22 L775.54 301.64 L775.71 301.06 L775.87 300.49 L776.04 299.91 L776.21 299.33 L776.38 298.75 L776.55 298.17 L776.72 297.59 L776.89 297.01 L777.06 296.44 L777.23 295.86 L777.4 295.28 L777.56 294.7 L777.73 294.12 L777.9 293.54 L778.07 292.96 L778.24 292.39 L778.41 291.81 L778.58 291.23 L778.75 290.65 L778.92 290.07 L779.09 289.49 L779.26 288.92 L779.43 288.34 L779.6 287.76 L779.77 287.18 L779.94 286.6 L780.11 286.02 L780.28 285.45 L780.45 284.87 L780.62 284.29 L780.79 283.71 L780.96 283.13 L781.13 282.55 L781.3 281.98 L781.47 281.4 L781.64 280.82 L781.8 280.24 L781.97 279.66 L782.13 279.08 L782.3 278.5 L782.46 277.92 L782.62 277.34 L782.78 276.75 L782.94 276.17 L783.09 275.59 L783.25 275.01 L783.41 274.43 L783.58 273.85 L783.74 273.27 L783.9 272.69 L784.07 272.11 L784.24 271.53 L784.41 270.95 L784.59 270.38 L784.76 269.8 L784.94 269.22 L785.12 268.65 L785.3 268.07 L785.48 267.5 L785.67 266.92 L785.86 266.35 L786.05 265.78 L786.24 265.21 L786.44 264.64 L786.64 264.07 L786.85 263.5 L787.04 262.92 L787.24 262.34 L787.45 261.76 L787.66 261.18 L787.88 260.62 L788.11 260.06 L788.36 259.52 L788.63 259 L788.92 258.5 L789.25 258 L789.61 257.5 L790.01 257.02 L790.43 256.56 L790.88 256.13 L791.34 255.75 L791.81 255.43 L792.33 255.14 L792.88 254.87 L793.46 254.65 L794.04 254.49 L794.63 254.37 L795.23 254.27 L795.83 254.21 L796.43 254.21 L797.03 254.29 L797.63 254.41 L798.22 254.55 L798.79 254.72 L799.36 254.95 L799.91 255.24 L800.42 255.56 L800.86 255.92 L801.26 256.34 L801.63 256.83 L801.99 257.34 L802.32 257.87 L802.65 258.38 L802.96 258.89 L803.26 259.41 L803.54 259.94 L803.82 260.48 L804.1 261.02 L804.38 261.55 L804.65 262.09 L804.91 262.64 L805.17 263.19 L805.42 263.75 L805.67 264.3 L805.93 264.84 L806.2 265.38 L806.48 265.91 L806.77 266.43 L807.09 266.94 L807.42 267.45 L807.77 267.97 L808.13 268.48 L808.51 268.96 L808.92 269.41 L809.35 269.8 L809.8 270.14 L810.31 270.49 L810.86 270.82 L811.43 271.09 L812.01 271.26 L812.57 271.29 L813.15 271.18 L813.74 270.96 L814.31 270.69 L814.85 270.39 L815.33 270.08 L815.79 269.71 L816.22 269.27 L816.63 268.81 L817.03 268.33 L817.41 267.87 L817.77 267.39 L818.12 266.91 L818.46 266.41 L818.79 265.9 L819.12 265.39 L819.43 264.87 L819.74 264.35 L820.05 263.82 L820.36 263.31 L820.66 262.79 L820.96 262.26 L821.26 261.74 L821.55 261.21 L821.84 260.68 L822.12 260.15 L822.4 259.61 L822.67 259.07 L822.94 258.53 L823.19 257.99 L823.45 257.45 L823.7 256.9 L823.94 256.35 L824.18 255.79 L824.41 255.24 L824.64 254.68 L824.87 254.12 L825.1 253.57 L825.32 253.01 L825.55 252.45 L825.78 251.89 L826 251.33 L826.23 250.77 L826.46 250.21 L826.69 249.65 L826.92 249.09 L827.16 248.54 L827.4 247.99 L827.65 247.44 L827.9 246.89 L828.15 246.34 L828.39 245.79 L828.64 245.24 L828.9 244.69 L829.15 244.15 L829.4 243.6 L829.66 243.05 L829.91 242.51 L830.17 241.96 L830.43 241.42 L830.69 240.88 L830.95 240.33 L831.22 239.79 L831.48 239.25 L831.75 238.71 L832.01 238.17 L832.28 237.63 L832.55 237.09 L832.82 236.55 L833.1 236.01 L833.37 235.48 L833.65 234.94 L833.93 234.41 L834.2 233.87 L834.48 233.34 L834.77 232.8 L835.05 232.27 L835.34 231.74 L835.62 231.21 L835.91 230.68 L836.2 230.15 L836.5 229.63 L836.79 229.1 L837.09 228.58 L837.39 228.05 L837.69 227.53 L837.99 227.01 L838.29 226.49 L838.6 225.97 L838.91 225.45 L839.22 224.94 L839.53 224.42 L839.85 223.9 L840.16 223.39 L840.48 222.88 L840.8 222.37 L841.12 221.86 L841.44 221.35 L841.76 220.84 L842.09 220.33 L842.41 219.82 L842.74 219.32 L843.07 218.81 L843.41 218.31 L843.74 217.81 L844.08 217.31 L844.42 216.81 L844.76 216.32 L845.1 215.82 L845.45 215.33 L845.8 214.84 L846.15 214.35 L846.5 213.86 L846.86 213.37 L847.22 212.89 L847.58 212.41 L847.94 211.92 L848.31 211.44 L848.68 210.97 L849.05 210.49 L849.42 210.01 L849.79 209.54 L850.16 209.07 L850.54 208.6 L850.91 208.13 L851.29 207.66 L851.67 207.19 L852.06 206.72 L852.44 206.26 L852.83 205.8 L853.22 205.34 L853.62 204.88 L854.02 204.43 L854.42 203.98 L854.82 203.54 L855.23 203.1 L855.65 202.66 L856.06 202.22 L856.49 201.79 L856.91 201.36 L857.34 200.93 L857.76 200.51 L858.19 200.09 L858.62 199.66 L859.06 199.25 L859.49 198.83 L859.92 198.41 L860.36 197.99 L860.8 197.58 L861.24 197.16 L861.68 196.75 L862.12 196.34 L862.57 195.94 L863.02 195.54 L863.48 195.14 L863.94 194.75 L864.4 194.37 L864.87 193.99 L865.34 193.62 L865.81 193.25 L866.29 192.88 L866.78 192.52 L867.26 192.16 L867.74 191.79 L868.22 191.43 L868.71 191.07 L869.19 190.71 L869.67 190.35 L870.16 189.99 L870.65 189.64 L871.14 189.29 L871.63 188.95 L872.13 188.61 L872.64 188.28 L873.14 187.95 L873.65 187.63 L874.16 187.31 L874.68 186.99 L875.19 186.68 L875.71 186.37 L876.23 186.07 L876.75 185.77 L877.28 185.47 L877.8 185.18 L878.33 184.89 L878.86 184.6 L879.4 184.32 L879.93 184.04 L880.46 183.76 L881 183.48 L881.54 183.21 L882.07 182.94 L882.61 182.67 L883.16 182.4 L883.7 182.14 L884.24 181.89 L884.79 181.63 L885.34 181.38 L885.89 181.13 L886.44 180.88 L886.99 180.64 L887.54 180.4 L888.1 180.17 L888.66 179.94 L889.21 179.71 L889.78 179.49 L890.34 179.28 L890.9 179.07 L891.47 178.86 L892.04 178.65 L892.6 178.44 L893.17 178.24 L893.74 178.03 L894.3 177.83 L894.87 177.63 L895.44 177.43 L896.01 177.23 L896.58 177.04 L897.15 176.85 L897.73 176.67 L898.3 176.49 L898.88 176.32 L899.46 176.15 L900.04 175.98 L900.62 175.81 L901.2 175.64 L901.78 175.48 L902.36 175.31 L902.94 175.15 L903.52 174.99 L904.1 174.83 L904.68 174.68 L905.27 174.53 L905.85 174.4 L906.44 174.26 L907.03 174.13 L907.62 174 L908.21 173.88 L908.8 173.75 L909.38 173.61 L909.97 173.48 L910.56 173.34 L911.15 173.21 L911.74 173.08 L912.32 172.95 L912.91 172.82 L913.5 172.69 L914.09 172.57 L914.68 172.45 L915.27 172.33 L915.86 172.21 L916.46 172.1 L917.05 171.99 L917.64 171.89 L918.24 171.79 L918.83 171.7 L919.43 171.6 L920.03 171.51 L920.62 171.43 L921.22 171.34 L921.82 171.26 L922.41 171.17 L923.01 171.09 L923.61 171.01 L924.2 170.93 L924.8 170.85 L925.4 170.78 L926 170.7 L926.6 170.62 L927.19 170.54 L927.79 170.46 L928.39 170.38 L928.99 170.31 L929.59 170.24 L930.19 170.18 L930.79 170.13 L931.39 170.08 L931.99 170.04 L932.59 170 L933.19 169.96 L933.79 169.92 L934.39 169.87 L934.99 169.83 L935.6 169.78 L936.2 169.74 L936.8 169.69 L937.4 169.65 L938 169.6" fill="none" stroke="#0000ff" stroke-width="2.5" />
</g>
<rect x="775.2" y="165.7" width="162.8" height="137.4" fill="none" stroke="#2a2a2a" stroke-width="0.85"/>
<line x1="775.2" y1="165.7" x2="938" y2="165.7" stroke="#999" stroke-width="1.4" />
<path d="M775.2 165.7 L938 165.7" fill="none" stroke="#ff0000" stroke-width="2.6" stroke-dasharray="9.3 8.7" />
<g opacity="0.999">
<text x="38.3" y="153.4" font-size="10.4" text-anchor="middle" fill="#222">0</text>
<text x="106.86" y="153.4" font-size="10.4" text-anchor="middle" fill="#222">5</text>
<text x="175.41" y="153.4" font-size="10.4" text-anchor="middle" fill="#222">10</text>
<text x="243.97" y="153.4" font-size="10.4" text-anchor="middle" fill="#222">15</text>
<text x="312.53" y="153.4" font-size="10.4" text-anchor="middle" fill="#222">20</text>
<text x="381.09" y="153.4" font-size="10.4" text-anchor="middle" fill="#222">25</text>
<text x="449.64" y="153.4" font-size="10.4" text-anchor="middle" fill="#222">30</text>
<text x="518.2" y="153.4" font-size="10.4" text-anchor="middle" fill="#222">35</text>
<text x="34.2" y="9.9" font-size="10.4" text-anchor="end" fill="#222">5</text>
<text x="34.2" y="73.7" font-size="10.4" text-anchor="end" fill="#222">0</text>
<text x="34.2" y="142.3" font-size="10.4" text-anchor="end" fill="#222">-5</text>
<text x="278" y="161.4" font-size="11.8" text-anchor="middle" textLength="27" lengthAdjust="spacingAndGlyphs" fill="#222"><tspan font-style="italic">&#958;</tspan> (m)</text>
<text transform="translate(17.3 70.8) rotate(-90)" font-size="11.8" text-anchor="middle" textLength="28" lengthAdjust="spacingAndGlyphs" fill="#222"><tspan font-style="italic">&#951;</tspan> (m)</text>
<text x="47.4" y="27.8" font-size="15.5" textLength="44" lengthAdjust="spacingAndGlyphs" font-weight="bold" fill="#0000ff">u = k<tspan dy="2.2" font-size="11" font-weight="normal">d</tspan><tspan dy="-2.2" font-size="0.1">&#8203;</tspan></text>
<text x="149" y="27.8" font-size="15.5" textLength="44" lengthAdjust="spacingAndGlyphs" font-weight="bold" fill="#12b212">u &#8800; k<tspan dy="2.2" font-size="11" font-weight="normal">d</tspan><tspan dy="-2.2" font-size="0.1">&#8203;</tspan></text>
<text x="450.5" y="27.8" font-size="15.5" textLength="44" lengthAdjust="spacingAndGlyphs" font-weight="bold" fill="#0000ff">u = k<tspan dy="2.2" font-size="11" font-weight="normal">d</tspan><tspan dy="-2.2" font-size="0.1">&#8203;</tspan></text>
<text x="497.2" y="17.8" font-size="15.2" textLength="17.8" lengthAdjust="spacingAndGlyphs" fill="#222">(a)</text>
<text x="67.9" y="117.2" font-size="15.5" text-anchor="middle" textLength="37.5" lengthAdjust="spacingAndGlyphs" fill="#222"><tspan font-style="italic">h</tspan> = <tspan font-style="italic">&#968;</tspan></text>
<text x="179" y="117.2" font-size="15.5" text-anchor="middle" textLength="37.5" lengthAdjust="spacingAndGlyphs" fill="#222"><tspan font-style="italic">h</tspan> &#8800; <tspan font-style="italic">&#968;</tspan></text>
<text x="444.65" y="117.2" font-size="15.5" text-anchor="middle" textLength="37.5" lengthAdjust="spacingAndGlyphs" fill="#222"><tspan font-style="italic">h</tspan> = <tspan font-style="italic">&#968;</tspan></text>
<text x="474.6" y="276.7" font-size="15.3" textLength="27" lengthAdjust="spacingAndGlyphs" fill="#222">Safe</text>
<text x="38.3" y="319.2" font-size="11.6" text-anchor="middle" fill="#222">0</text>
<text x="197.3" y="319.2" font-size="11.6" text-anchor="middle" fill="#222">5</text>
<text x="356.3" y="319.2" font-size="11.6" text-anchor="middle" fill="#222">10</text>
<text x="515.3" y="319.2" font-size="11.6" text-anchor="middle" fill="#222">15</text>
<text x="33.6" y="303.9" font-size="11.6" text-anchor="end" fill="#222">0</text>
<text x="33.6" y="269.6" font-size="11.6" text-anchor="end" fill="#222">100</text>
<text x="33.6" y="235.3" font-size="11.6" text-anchor="end" fill="#222">200</text>
<text x="33.6" y="201" font-size="11.6" text-anchor="end" fill="#222">300</text>
<text x="277" y="327.7" font-size="13.2" text-anchor="middle" textLength="57.5" lengthAdjust="spacingAndGlyphs" fill="#222">time, <tspan font-style="italic">t</tspan> (s)</text>
<text transform="translate(12.2 234.5) rotate(-90)" font-size="13.2" text-anchor="middle" textLength="73.5" lengthAdjust="spacingAndGlyphs" fill="#222">CBF, <tspan font-style="italic">h</tspan> (m<tspan dy="-4.2" font-size="9">2</tspan><tspan dy="4.2" font-size="0.1">&#8203;</tspan>)</text>
<text x="147.5" y="184.5" font-size="15.3" text-anchor="middle" textLength="37.7" lengthAdjust="spacingAndGlyphs" fill="#222"><tspan font-style="italic">h</tspan> &#8800; <tspan font-style="italic">&#968;</tspan></text>
<text x="71.8" y="290.9" font-size="15.3" fill="#222"><tspan font-style="italic">h</tspan></text>
<text x="124.8" y="266" font-size="15.3" fill="#222"><tspan font-style="italic">&#968;</tspan></text>
<text x="342.6" y="205.8" font-size="15.3" fill="#222"><tspan font-style="italic">&#968;</tspan></text>
<text x="375.9" y="246.4" font-size="15.3" fill="#222"><tspan font-style="italic">h</tspan></text>
<text x="496.2" y="184.4" font-size="15.2" textLength="18.3" lengthAdjust="spacingAndGlyphs" fill="#222">(d)</text>
<text x="561.4" y="154" font-size="10.6" text-anchor="middle" fill="#222">0</text>
<text x="615.8" y="154" font-size="10.6" text-anchor="middle" fill="#222">5</text>
<text x="670.2" y="154" font-size="10.6" text-anchor="middle" fill="#222">10</text>
<text x="724.6" y="154" font-size="10.6" text-anchor="middle" fill="#222">15</text>
<text x="556.6" y="10.1" font-size="10.6" text-anchor="end" fill="#222">1</text>
<text x="556.6" y="49" font-size="10.6" text-anchor="end" fill="#222">0</text>
<text x="556.6" y="92.7" font-size="10.6" text-anchor="end" fill="#222">-1</text>
<text x="556.6" y="136" font-size="10.6" text-anchor="end" fill="#222">-2</text>
<text transform="translate(539.6 76.9) rotate(-90)" font-size="12.2" text-anchor="middle" textLength="71.7" lengthAdjust="spacingAndGlyphs" fill="#222">input, <tspan font-style="italic">u</tspan><tspan dy="2" font-size="8.5">1</tspan><tspan dy="-2" font-size="0.1">&#8203;</tspan> (&#8722;)</text>
<text x="605.9" y="44.6" font-size="12.5" textLength="10.6" lengthAdjust="spacingAndGlyphs" fill="#222"><tspan font-style="italic">u</tspan><tspan dy="2" font-size="8.5">1</tspan><tspan dy="-2" font-size="0.1">&#8203;</tspan></text>
<text x="577.5" y="115.6" font-size="12.5" textLength="17" lengthAdjust="spacingAndGlyphs" fill="#222"><tspan font-style="italic">k</tspan><tspan dy="2.2" font-size="8.8">d,1</tspan><tspan dy="-2.2" font-size="0.1">&#8203;</tspan></text>
<text x="703.8" y="18" font-size="15.2" textLength="18" lengthAdjust="spacingAndGlyphs" fill="#222">(b)</text>
<text x="775.7" y="154" font-size="10.6" text-anchor="middle" fill="#222">0</text>
<text x="830.07" y="154" font-size="10.6" text-anchor="middle" fill="#222">5</text>
<text x="884.43" y="154" font-size="10.6" text-anchor="middle" fill="#222">10</text>
<text x="938.3" y="154" font-size="10.6" text-anchor="middle" fill="#222">15</text>
<text x="770.8" y="9.7" font-size="10.6" text-anchor="end" fill="#222">0.6</text>
<text x="770.8" y="31.9" font-size="10.6" text-anchor="end" fill="#222">0.4</text>
<text x="770.8" y="54.5" font-size="10.6" text-anchor="end" fill="#222">0.2</text>
<text x="770.8" y="76.9" font-size="10.6" text-anchor="end" fill="#222">0</text>
<text x="770.8" y="99.8" font-size="10.6" text-anchor="end" fill="#222">-0.2</text>
<text x="770.8" y="122.3" font-size="10.6" text-anchor="end" fill="#222">-0.4</text>
<text transform="translate(745.3 70.9) rotate(-90)" font-size="12.2" text-anchor="middle" textLength="99.7" lengthAdjust="spacingAndGlyphs" fill="#222">yaw angle, <tspan font-style="italic">&#977;</tspan> (rad)</text>
<text x="921" y="16.4" font-size="15.2" textLength="16" lengthAdjust="spacingAndGlyphs" fill="#222">(c)</text>
<text x="561.2" y="318.3" font-size="10.6" text-anchor="middle" fill="#222">0</text>
<text x="615.67" y="318.3" font-size="10.6" text-anchor="middle" fill="#222">5</text>
<text x="670.13" y="318.3" font-size="10.6" text-anchor="middle" fill="#222">10</text>
<text x="724.6" y="318.3" font-size="10.6" text-anchor="middle" fill="#222">15</text>
<text x="556.6" y="169.3" font-size="10.6" text-anchor="end" fill="#222">3</text>
<text x="556.6" y="196.5" font-size="10.6" text-anchor="end" fill="#222">2</text>
<text x="556.6" y="224.5" font-size="10.6" text-anchor="end" fill="#222">1</text>
<text x="556.6" y="252" font-size="10.6" text-anchor="end" fill="#222">0</text>
<text x="556.6" y="279.4" font-size="10.6" text-anchor="end" fill="#222">-1</text>
<text x="556.6" y="306.5" font-size="10.6" text-anchor="end" fill="#222">-2</text>
<text transform="translate(539.2 234.9) rotate(-90)" font-size="12.2" text-anchor="middle" textLength="87" lengthAdjust="spacingAndGlyphs" fill="#222">input, <tspan font-style="italic">u</tspan><tspan dy="2" font-size="8.5">2</tspan><tspan dy="-2" font-size="0.1">&#8203;</tspan> (m/s<tspan dy="-4" font-size="8.5">2</tspan><tspan dy="4" font-size="0.1">&#8203;</tspan>)</text>
<text x="643" y="327.7" font-size="12.2" text-anchor="middle" textLength="53.8" lengthAdjust="spacingAndGlyphs" fill="#222">time, <tspan font-style="italic">t</tspan> (s)</text>
<text x="600.8" y="266.6" font-size="12.5" textLength="10.8" lengthAdjust="spacingAndGlyphs" fill="#222"><tspan font-style="italic">u</tspan><tspan dy="2" font-size="8.5">2</tspan><tspan dy="-2" font-size="0.1">&#8203;</tspan></text>
<text x="585.7" y="192.2" font-size="12.5" textLength="18" lengthAdjust="spacingAndGlyphs" fill="#222"><tspan font-style="italic">k</tspan><tspan dy="2.2" font-size="8.8">d,2</tspan><tspan dy="-2.2" font-size="0.1">&#8203;</tspan></text>
<text x="703.6" y="181.7" font-size="15.2" textLength="17.5" lengthAdjust="spacingAndGlyphs" fill="#222">(e)</text>
<text x="775.2" y="318.3" font-size="10.6" text-anchor="middle" fill="#222">0</text>
<text x="829.47" y="318.3" font-size="10.6" text-anchor="middle" fill="#222">5</text>
<text x="883.73" y="318.3" font-size="10.6" text-anchor="middle" fill="#222">10</text>
<text x="938.2" y="318.3" font-size="10.6" text-anchor="middle" fill="#222">15</text>
<text x="770.4" y="169.3" font-size="10.6" text-anchor="end" fill="#222">10</text>
<text x="770.4" y="203.5" font-size="10.6" text-anchor="end" fill="#222">8</text>
<text x="770.4" y="237.8" font-size="10.6" text-anchor="end" fill="#222">6</text>
<text x="770.4" y="272.2" font-size="10.6" text-anchor="end" fill="#222">4</text>
<text x="770.4" y="306.5" font-size="10.6" text-anchor="end" fill="#222">2</text>
<text transform="translate(751.6 234.6) rotate(-90)" font-size="12.2" text-anchor="middle" textLength="89" lengthAdjust="spacingAndGlyphs" fill="#222">velocity, <tspan font-style="italic">v</tspan> (m/s)</text>
<text x="856.3" y="327.7" font-size="12.2" text-anchor="middle" textLength="53.8" lengthAdjust="spacingAndGlyphs" fill="#222">time, <tspan font-style="italic">t</tspan> (s)</text>
<text x="832.2" y="176.7" font-size="12.5" textLength="10.2" lengthAdjust="spacingAndGlyphs" fill="#222"><tspan font-style="italic">v</tspan><tspan dy="2" font-size="8.8">d</tspan><tspan dy="-2" font-size="0.1">&#8203;</tspan></text>
<text x="856.8" y="223.4" font-size="12.5" fill="#222"><tspan font-style="italic">v</tspan></text>
<text x="922.8" y="298.3" font-size="15.2" textLength="14.5" lengthAdjust="spacingAndGlyphs" fill="#222">(f)</text>
</g>
</svg></body></html>
